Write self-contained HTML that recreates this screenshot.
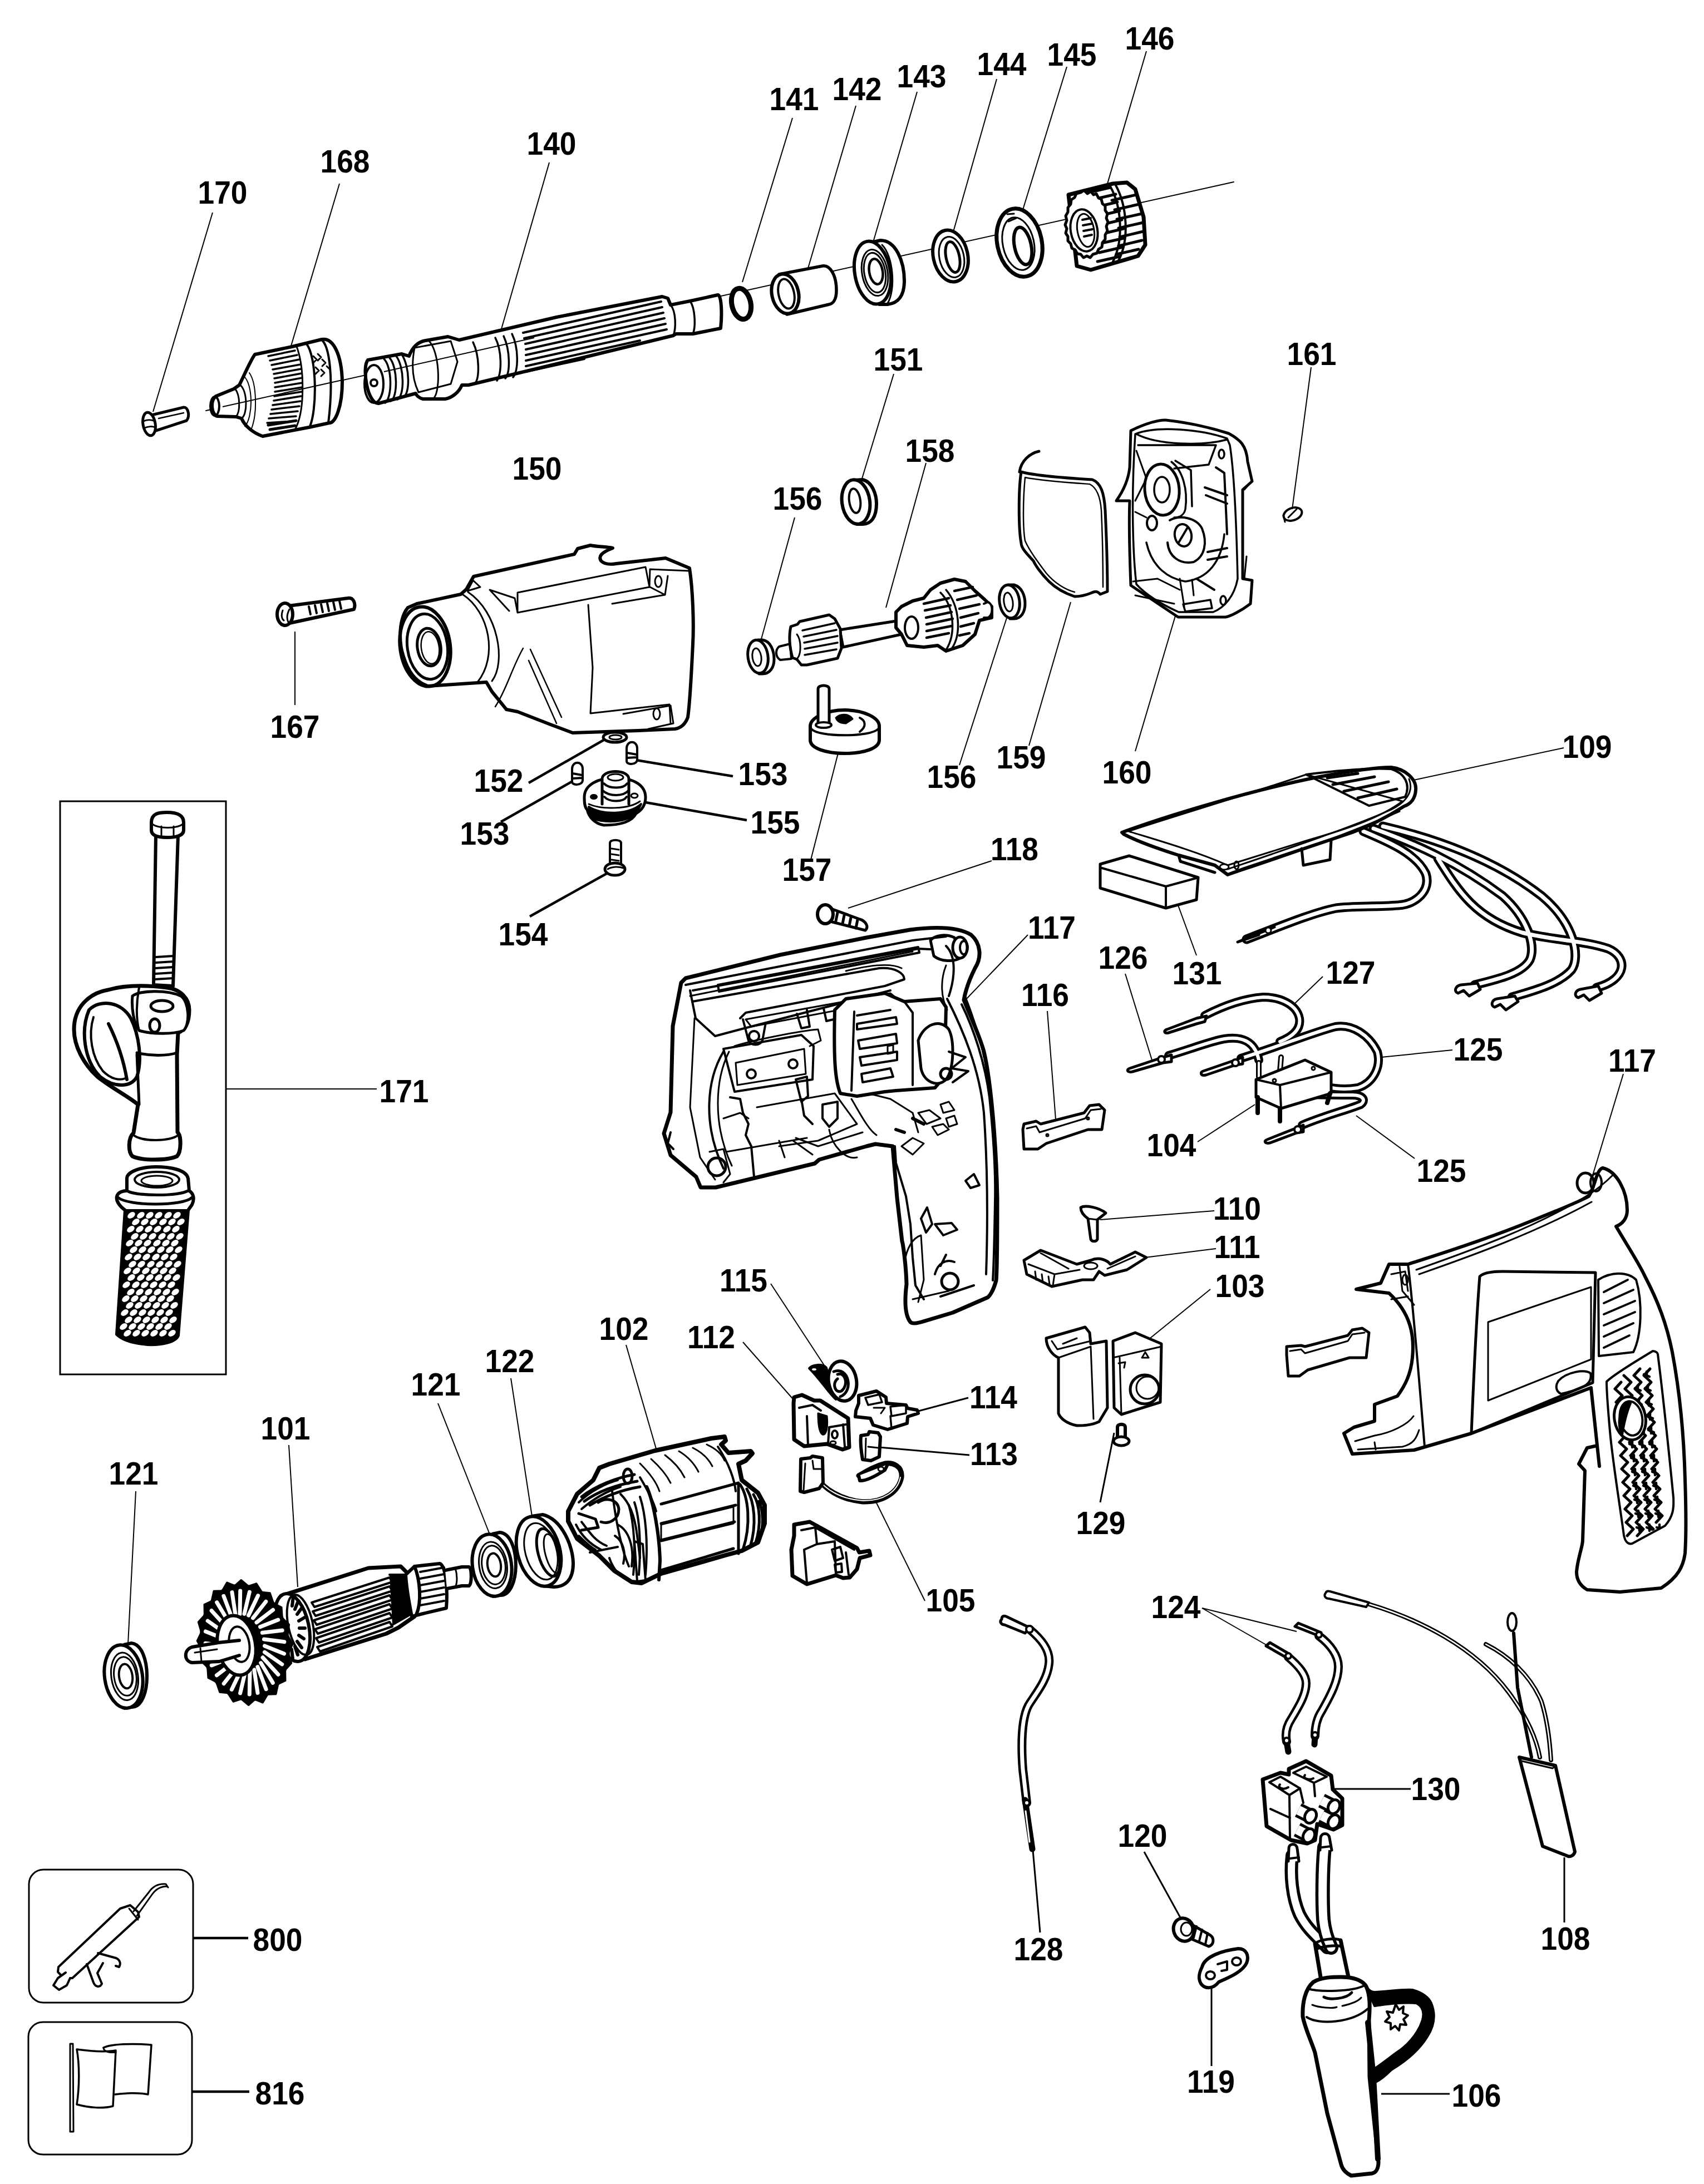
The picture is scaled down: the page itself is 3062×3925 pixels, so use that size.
<!DOCTYPE html><html><head><meta charset="utf-8"><style>html,body{margin:0;padding:0;background:#fff;overflow:hidden}svg{display:block}text{font-family:"Liberation Sans",sans-serif;font-weight:bold;font-size:57px;text-anchor:middle}</style></head><body>
<svg width="3062" height="3925" viewBox="0 0 3062 3925">
<rect width="3062" height="3925" fill="#fff"/>
<g fill="#000">
<text transform="translate(400 366) scale(0.935 1)">170</text>
<text transform="translate(620 310) scale(0.935 1)">168</text>
<text transform="translate(991 278) scale(0.935 1)">140</text>
<text transform="translate(965 862) scale(0.935 1)">150</text>
<text transform="translate(1427 198) scale(0.935 1)">141</text>
<text transform="translate(1540 180) scale(0.935 1)">142</text>
<text transform="translate(1656 157) scale(0.935 1)">143</text>
<text transform="translate(1800 135) scale(0.935 1)">144</text>
<text transform="translate(1926 118) scale(0.935 1)">145</text>
<text transform="translate(2066 89) scale(0.935 1)">146</text>
<text transform="translate(2357 656) scale(0.935 1)">161</text>
<text transform="translate(1614 666) scale(0.935 1)">151</text>
<text transform="translate(1671 830) scale(0.935 1)">158</text>
<text transform="translate(1433 916) scale(0.935 1)">156</text>
<text transform="translate(530 1326) scale(0.935 1)">167</text>
<text transform="translate(896 1423) scale(0.935 1)">152</text>
<text transform="translate(871 1518) scale(0.935 1)">153</text>
<text transform="translate(940 1699) scale(0.935 1)">154</text>
<text transform="translate(1371 1411) scale(0.935 1)">153</text>
<text transform="translate(1393 1498) scale(0.935 1)">155</text>
<text transform="translate(1450 1583) scale(0.935 1)">157</text>
<text transform="translate(1710 1416) scale(0.935 1)">156</text>
<text transform="translate(1835 1381) scale(0.935 1)">159</text>
<text transform="translate(2025 1408) scale(0.935 1)">160</text>
<text transform="translate(1823 1546) scale(0.935 1)">118</text>
<text transform="translate(1890 1687) scale(0.935 1)">117</text>
<text transform="translate(2018 1741) scale(0.935 1)">126</text>
<text transform="translate(1878 1808) scale(0.935 1)">116</text>
<text transform="translate(2151 1769) scale(0.935 1)">131</text>
<text transform="translate(2427 1768) scale(0.935 1)">127</text>
<text transform="translate(2852 1362) scale(0.935 1)">109</text>
<text transform="translate(2656 1906) scale(0.935 1)">125</text>
<text transform="translate(2933 1926) scale(0.935 1)">117</text>
<text transform="translate(2590 2124) scale(0.935 1)">125</text>
<text transform="translate(2223 2192) scale(0.935 1)">110</text>
<text transform="translate(2223 2261) scale(0.935 1)">111</text>
<text transform="translate(2228 2331) scale(0.935 1)">103</text>
<text transform="translate(2105 2078) scale(0.935 1)">104</text>
<text transform="translate(1336 2321) scale(0.935 1)">115</text>
<text transform="translate(1278 2423) scale(0.935 1)">112</text>
<text transform="translate(1785 2531) scale(0.935 1)">114</text>
<text transform="translate(1786 2633) scale(0.935 1)">113</text>
<text transform="translate(1978 2757) scale(0.935 1)">129</text>
<text transform="translate(2113 2908) scale(0.935 1)">124</text>
<text transform="translate(1121 2408) scale(0.935 1)">102</text>
<text transform="translate(916 2466) scale(0.935 1)">122</text>
<text transform="translate(783 2508) scale(0.935 1)">121</text>
<text transform="translate(513 2587) scale(0.935 1)">101</text>
<text transform="translate(240 2668) scale(0.935 1)">121</text>
<text transform="translate(1708 2896) scale(0.935 1)">105</text>
<text transform="translate(1866 3523) scale(0.935 1)">128</text>
<text transform="translate(2053 3319) scale(0.935 1)">120</text>
<text transform="translate(2176 3761) scale(0.935 1)">119</text>
<text transform="translate(2580 3235) scale(0.935 1)">130</text>
<text transform="translate(2813 3504) scale(0.935 1)">108</text>
<text transform="translate(2653 3786) scale(0.935 1)">106</text>
<text transform="translate(726 1981) scale(0.935 1)">171</text>
<text transform="translate(499 3506) scale(0.935 1)">800</text>
<text transform="translate(503 3782) scale(0.935 1)">816</text>
</g>
<g stroke="#000" stroke-width="2" fill="none">
<line x1="382" y1="382" x2="275" y2="740" stroke-width="2"/>
<line x1="610" y1="330" x2="522" y2="625" stroke-width="2"/>
<line x1="987" y1="292" x2="897" y2="605" stroke-width="2"/>
<line x1="1424" y1="212" x2="1334" y2="507" stroke-width="2"/>
<line x1="1538" y1="190" x2="1452" y2="482" stroke-width="2"/>
<line x1="1648" y1="165" x2="1569" y2="435" stroke-width="2"/>
<line x1="1791" y1="142" x2="1712" y2="420" stroke-width="2"/>
<line x1="1917" y1="120" x2="1837" y2="380" stroke-width="2"/>
<line x1="2060" y1="92" x2="1990" y2="330" stroke-width="2"/>
<line x1="2356" y1="660" x2="2322" y2="915" stroke-width="2"/>
<line x1="1606" y1="672" x2="1549" y2="860" stroke-width="2"/>
<line x1="1664" y1="832" x2="1592" y2="1092" stroke-width="2"/>
<line x1="1428" y1="930" x2="1367" y2="1152" stroke-width="2"/>
<line x1="530" y1="1135" x2="530" y2="1267" stroke-width="2"/>
<line x1="950" y1="1407" x2="1090" y2="1327" stroke-width="4.5"/>
<line x1="900" y1="1477" x2="1027" y2="1405" stroke-width="4.5"/>
<line x1="1137" y1="1365" x2="1317" y2="1395" stroke-width="4.5"/>
<line x1="1160" y1="1442" x2="1342" y2="1474" stroke-width="4.5"/>
<line x1="952" y1="1647" x2="1090" y2="1570" stroke-width="4.5"/>
<line x1="1509" y1="1342" x2="1457" y2="1545" stroke-width="2"/>
<line x1="1814" y1="1095" x2="1724" y2="1375" stroke-width="2"/>
<line x1="1924" y1="1082" x2="1849" y2="1340" stroke-width="2"/>
<line x1="2117" y1="1090" x2="2040" y2="1350" stroke-width="2"/>
<line x1="1782" y1="1547" x2="1524" y2="1632" stroke-width="2"/>
<line x1="1847" y1="1680" x2="1732" y2="1800" stroke-width="2"/>
<line x1="2022" y1="1750" x2="2070" y2="1905" stroke-width="2"/>
<line x1="1882" y1="1817" x2="1897" y2="2012" stroke-width="2"/>
<line x1="2117" y1="1627" x2="2150" y2="1717" stroke-width="2"/>
<line x1="2377" y1="1755" x2="2325" y2="1805" stroke-width="2"/>
<line x1="2810" y1="1344" x2="2540" y2="1402" stroke-width="2"/>
<line x1="2610" y1="1887" x2="2482" y2="1900" stroke-width="2"/>
<line x1="2917" y1="1930" x2="2859" y2="2122" stroke-width="2"/>
<line x1="2542" y1="2082" x2="2437" y2="2005" stroke-width="2"/>
<line x1="2182" y1="2176" x2="1977" y2="2192" stroke-width="2"/>
<line x1="2185" y1="2244" x2="2057" y2="2260" stroke-width="2"/>
<line x1="2175" y1="2317" x2="2042" y2="2425" stroke-width="2"/>
<line x1="2152" y1="2052" x2="2255" y2="1985" stroke-width="2"/>
<line x1="1385" y1="2307" x2="1495" y2="2475" stroke-width="2"/>
<line x1="1335" y1="2412" x2="1430" y2="2520" stroke-width="2"/>
<line x1="1740" y1="2512" x2="1635" y2="2540" stroke-width="3"/>
<line x1="1742" y1="2615" x2="1580" y2="2601" stroke-width="3"/>
<line x1="1977" y1="2700" x2="2002" y2="2575" stroke-width="3"/>
<line x1="2160" y1="2890" x2="2330" y2="2932" stroke-width="2"/>
<line x1="2160" y1="2890" x2="2277" y2="2957" stroke-width="2"/>
<line x1="1125" y1="2417" x2="1180" y2="2607" stroke-width="2"/>
<line x1="918" y1="2477" x2="956" y2="2725" stroke-width="2"/>
<line x1="787" y1="2522" x2="881" y2="2760" stroke-width="2"/>
<line x1="519" y1="2597" x2="535" y2="2852" stroke-width="2"/>
<line x1="244" y1="2680" x2="230" y2="2955" stroke-width="2"/>
<line x1="1662" y1="2877" x2="1574" y2="2699" stroke-width="2"/>
<line x1="1856" y1="3325" x2="1869" y2="3473" stroke-width="3"/>
<line x1="2056" y1="3328" x2="2122" y2="3448" stroke-width="3"/>
<line x1="2177" y1="3573" x2="2177" y2="3713" stroke-width="3"/>
<line x1="2397" y1="3215" x2="2535" y2="3215" stroke-width="3"/>
<line x1="2811" y1="3338" x2="2811" y2="3455" stroke-width="3"/>
<line x1="2482" y1="3763" x2="2605" y2="3763" stroke-width="3"/>
<line x1="406" y1="1957" x2="677" y2="1957" stroke-width="2"/>
<line x1="347" y1="3483" x2="446" y2="3483" stroke-width="4.5"/>
<line x1="345" y1="3759" x2="448" y2="3759" stroke-width="4.5"/>
</g>
<g stroke="#000" stroke-width="3" fill="none">
<rect x="108" y="1440" width="298" height="1030"/>
<rect x="52" y="3360" width="295" height="239" rx="26"/>
<rect x="51" y="3634" width="294" height="238" rx="26"/>
</g>
<!-- a_spindle.svg -->
<g fill="none" stroke="#000" stroke-linejoin="round" stroke-linecap="round">
<!-- axis line -->
<line x1="370" y1="738" x2="2217" y2="327" stroke-width="2"/>
<!-- screw 170 -->
<g stroke-width="5">
<path d="M272,746 L330,732 C338,731 342,748 335,756 L280,774" fill="#fff"/>
<ellipse cx="268" cy="762" rx="11" ry="21" transform="rotate(-10 268 762)" fill="#fff"/>
<path d="M258,757 C264,754 272,754 278,757 M260,769 C266,766 274,766 279,768" stroke-width="3"/>
<path d="M285,752 L330,742" stroke-width="2.5"/>
</g>
<!-- chuck 168 -->
<g stroke-width="6">
<path d="M388,712 L420,699 L430,692 C440,672 450,648 458,637 L525,623 L578,610 C600,606 614,640 615,686 C615,730 603,760 592,760 L555,768 L472,784 C455,778 440,766 434,752 L424,749 L390,748 C380,745 377,720 388,712 Z" fill="#fff"/>
<ellipse cx="386" cy="730" rx="8" ry="17" stroke-width="4"/>
<path d="M422,698 C432,710 432,740 424,749 M432,692 C445,705 445,745 434,752" stroke-width="3"/>
<path d="M438,676 C455,690 455,750 440,766 M448,670 C462,690 462,745 452,770" stroke-width="2"/>
<path d="M577,610 C592,620 600,680 590,760 M550,617 C570,640 570,740 556,768" stroke-width="4"/>
<path d="M532,620 C548,660 548,740 530,772" stroke-width="3"/>
</g>
<g stroke-width="3.5">
<path d="M482,640 L530,630 M485,648 L534,638 M488,656 L538,646 M490,664 L540,655 M492,672 L541,663 M493,680 L542,671 M494,688 L543,679 M494,696 L543,688 M494,704 L543,696 M493,712 L542,704 M492,720 L541,712 M490,728 L540,721 M488,736 L538,730 M486,744 L535,739 M483,752 L532,748 M480,760 L528,757"/>
</g>
<path d="M563,640 l6,6 l-6,6 M571,636 l6,6 l-6,6 M579,646 l6,6 l-6,6 M567,660 l6,6 l-6,6 M577,664 l6,6 l-6,6 M587,658 l5,5" stroke-width="3"/>
<path d="M482,764 L532,756 M485,772 L530,765" stroke-width="5"/>
<!-- spindle 140 -->
<g stroke-width="6">
<path d="M661,647 L722,636 L735,640 C742,622 752,614 765,612 L805,605 L825,611 L1000,570 L1190,533 L1200,536 L1205,548 L1240,541 L1290,530 C1296,530 1298,560 1295,590 L1245,600 L1215,600 L1210,603 L1050,642 L842,692 L830,692 C825,705 812,715 800,717 L760,717 C752,715 748,710 747,707 L680,725 C660,726 650,660 661,647 Z" fill="#fff"/>
<ellipse cx="672" cy="690" rx="17" ry="34" stroke-width="4"/>
<circle cx="672" cy="688" r="6" stroke-width="4"/>
<path d="M690,645 C705,660 705,715 692,724 M700,643 C715,660 715,715 702,721 M712,640 C727,660 727,712 714,718 M722,637 C737,660 737,710 724,714" stroke-width="3.5"/>
<path d="M745,625 L810,613 L822,650 L810,690 L752,705 C740,680 740,650 745,625" stroke-width="3"/>
<path d="M770,612 C790,630 792,700 780,715" stroke-width="3"/>
<path d="M850,615 C862,640 862,680 853,690 M890,607 C902,630 902,670 893,684 M905,604 C917,630 917,670 908,680 M920,600 C932,625 932,665 922,678" stroke-width="3.5"/>
<path d="M940,598 L1188,542 M942,608 L1190,552 M944,618 L1192,562 M945,628 L1194,572 M945,638 L1196,582 M945,648 L1198,592 M945,658 L1150,612 M945,668 L1050,645" stroke-width="4"/>
<path d="M1205,548 C1215,560 1215,590 1210,603 M1240,541 C1250,555 1250,590 1245,600" stroke-width="3.5"/>
</g>
</g>

<!-- b_rings.svg -->
<g fill="none" stroke="#000" stroke-linejoin="round" stroke-linecap="round">
<!-- 141 o-ring -->
<ellipse cx="1332" cy="546" rx="17" ry="28" transform="rotate(-12 1332 546)" stroke-width="9" fill="#fff"/>
<!-- 142 sleeve -->
<g stroke-width="5.5">
<path d="M1400,493 L1478,478 C1492,476 1503,495 1503,522 C1503,540 1496,546 1490,547 L1414,565" fill="#fff"/>
<ellipse cx="1411" cy="528" rx="24" ry="36" transform="rotate(-12 1411 528)" fill="#fff" stroke-width="6"/>
<ellipse cx="1413" cy="528" rx="14" ry="27" transform="rotate(-12 1413 528)" stroke-width="4"/>
</g>
<!-- 143 bearing -->
<g stroke-width="6">
<path d="M1560,437 L1582,432 C1610,432 1625,470 1625,505 C1625,530 1615,545 1595,547 L1580,547" fill="#fff"/>
<ellipse cx="1568" cy="490" rx="32" ry="57" transform="rotate(-10 1568 490)" fill="#fff"/>
<ellipse cx="1572" cy="490" rx="23" ry="42" transform="rotate(-10 1572 490)" stroke-width="3"/>
<ellipse cx="1572" cy="490" rx="19" ry="36" transform="rotate(-10 1572 490)" stroke-width="3"/>
<ellipse cx="1574" cy="488" rx="12" ry="23" transform="rotate(-10 1574 488)" stroke-width="4.5"/>
<path d="M1585,440 C1605,460 1610,520 1595,545" stroke-width="3"/>
</g>
<!-- 144 ring -->
<g>
<ellipse cx="1708" cy="460" rx="31" ry="47" transform="rotate(-12 1708 460)" stroke-width="6" fill="#fff"/>
<ellipse cx="1710" cy="462" rx="22" ry="37" transform="rotate(-12 1710 462)" stroke-width="3"/>
<ellipse cx="1712" cy="462" rx="12" ry="28" transform="rotate(-12 1712 462)" stroke-width="5"/>
</g>
<!-- 145 ring -->
<g>
<ellipse cx="1832" cy="436" rx="40" ry="62" transform="rotate(-12 1832 436)" stroke-width="7" fill="#fff"/>
<ellipse cx="1830" cy="438" rx="28" ry="48" transform="rotate(-12 1830 438)" stroke-width="3"/>
<ellipse cx="1838" cy="442" rx="15" ry="34" transform="rotate(-12 1838 442)" stroke-width="6"/>
<path d="M1810,385 L1822,384 M1812,398 L1826,392" stroke-width="3"/>
</g>
<!-- 146 gear -->
<g>
<path d="M1920,350 L2000,330 L2025,328 L2040,340 L2055,390 L2058,440 L2045,460 L1960,485 L1935,478 Z" fill="#fff" stroke="#000" stroke-width="7"/>
<g stroke-width="5">
<path d="M1952,347 L1995,337 M1958,360 L2005,349 M1998,360 L2042,350 M1962,374 L2008,363 M2003,377 L2047,367 M1966,390 L2012,379 M2007,394 L2052,384 M1970,406 L2016,395 M2010,410 L2054,400 M1973,422 L2019,411 M2012,426 L2054,416 M1975,438 L2020,428 M2010,442 L2052,432 M1975,454 L2018,444 M2006,457 L2046,448 M1972,470 L2012,461"/>
</g>
<path d="M1995,335 C2015,370 2020,430 2000,470 M2005,333 C2025,370 2030,430 2010,468" stroke-width="4"/>
<path d="M1942,346 l6,-4 l6,6 l6,-4 l5,6 l5,-2 l4,8 l5,2 l2,8 l5,4 l0,8 l4,6 l-2,8 l3,7 l-3,8 l2,8 l-4,7 l0,8 l-5,6 l-1,8 l-6,4 l-3,7 l-7,2 l-5,6 l-6,-3 l-6,3 l-5,-6 l-6,-1 l-4,-7 l-6,-3 l-2,-8 l-5,-5 l0,-8 l-4,-6 l2,-8 l-3,-7 l3,-8 l-2,-8 l4,-7 l0,-8 l5,-6 l1,-8 l6,-4 l3,-7 l7,-2 Z" fill="#fff" stroke-width="5"/>
<ellipse cx="1948" cy="414" rx="24" ry="38" transform="rotate(-10 1948 414)" stroke-width="4"/>
<ellipse cx="1951" cy="414" rx="15" ry="30" transform="rotate(-10 1951 414)" stroke-width="3"/>
<path d="M1945,395 L1960,392 M1946,405 L1962,402 M1947,415 L1963,412 M1948,425 L1962,422" stroke-width="4"/>
</g>
<!-- 151 washer -->
<g>
<path d="M1535,863 L1550,862 C1568,866 1575,890 1575,905 C1575,930 1565,942 1550,942 L1540,942" stroke-width="6" fill="#fff"/>
<ellipse cx="1538" cy="902" rx="25" ry="40" transform="rotate(-8 1538 902)" stroke-width="6" fill="#fff"/>
<ellipse cx="1536" cy="900" rx="10" ry="22" transform="rotate(-8 1536 900)" stroke-width="4"/>
</g>
</g>

<!-- c_housing150.svg -->
<g fill="none" stroke="#000" stroke-linejoin="round" stroke-linecap="round">
<path d="M749,1085 L828,1068 L838,1059 L851,1036 L1032,996 L1038,986 L1061,980 C1075,983 1090,982 1101,985 C1080,993 1075,1000 1080,1008 C1085,1013 1095,1015 1107,1013 L1196,1003 L1239,1021 C1245,1060 1247,1120 1245,1157 C1243,1200 1240,1260 1236,1289 C1232,1300 1225,1308 1213,1310 L1147,1313 L1029,1317 L989,1302 L930,1279 L910,1275 L884,1243 L874,1226 L769,1233 C745,1225 733,1205 725,1180 C715,1150 718,1110 733,1092 Z" stroke-width="6" fill="#fff"/>
<ellipse cx="764" cy="1162" rx="45" ry="72" transform="rotate(-8 764 1162)" stroke-width="6"/>
<ellipse cx="768" cy="1162" rx="36" ry="59" transform="rotate(-8 768 1162)" stroke-width="5"/>
<ellipse cx="771" cy="1163" rx="21" ry="34" transform="rotate(-8 771 1163)" stroke-width="5"/>
<ellipse cx="773" cy="1164" rx="16" ry="29" transform="rotate(-8 773 1164)" stroke-width="2.5"/>
<path d="M831,1068 C880,1100 895,1180 858,1226 M841,1064 C895,1100 910,1190 884,1224" stroke-width="3"/>
<path d="M930,1065 L1160,1019 L1167,1055 L930,1101 Z M930,1101 L925,1075 L880,1060 L915,1098" stroke-width="3"/>
<path d="M1167,1055 L1168,1023 L1239,1026 M1168,1055 L1195,1069 L1100,1085 M1195,1069 L1200,1035" stroke-width="3"/>
<path d="M1057,1087 L1065,1200 L1061,1282 L1203,1266 L1205,1300" stroke-width="3"/>
<path d="M953,1167 L1009,1289 M950,1187 L1000,1300 M940,1165 C920,1200 910,1240 890,1270" stroke-width="2.5"/>
<ellipse cx="1183" cy="1045" rx="6" ry="10" stroke-width="3"/>
<ellipse cx="1180" cy="1283" rx="6" ry="10" stroke-width="3"/>
<path d="M1120,1283 L1205,1268 L1210,1300 L1165,1310" stroke-width="3"/>
<path d="M840,1062 L850,1043 L863,1055 Z" stroke-width="3"/>
</g>
<!-- 167 screw -->
<g fill="none" stroke="#000" stroke-linejoin="round" stroke-linecap="round">
<path d="M510,1090 L625,1075 C635,1073 640,1085 636,1095 L520,1120" stroke-width="6" fill="#fff"/>
<ellipse cx="512" cy="1104" rx="14" ry="20" stroke-width="6" fill="#fff"/>
<path d="M520,1095 C515,1105 515,1112 518,1118 M508,1097 C505,1105 506,1112 510,1115" stroke-width="3"/>
<path d="M555,1090 L558,1104 M566,1088 L569,1102 M577,1086 L580,1100 M588,1084 L591,1098 M599,1082 L602,1096 M610,1080 L613,1094" stroke-width="4"/>
</g>

<!-- d_mid.svg -->
<g fill="none" stroke="#000" stroke-linejoin="round" stroke-linecap="round">
<!-- 152 washer -->
<ellipse cx="1105" cy="1325" rx="21" ry="9" stroke-width="5" fill="#fff"/>
<ellipse cx="1106" cy="1325" rx="11" ry="4" stroke-width="3"/>
<!-- 153 pins -->
<path d="M1126,1368 L1126,1345 C1126,1330 1145,1330 1145,1345 L1145,1365 C1145,1375 1126,1375 1126,1368 Z M1127,1353 L1144,1356 M1127,1362 L1144,1361" stroke-width="4" fill="#fff"/>
<path d="M1028,1405 L1028,1382 C1028,1367 1047,1367 1047,1382 L1047,1402 C1047,1412 1028,1412 1028,1405 Z M1029,1390 L1046,1393 M1029,1399 L1046,1398" stroke-width="4" fill="#fff"/>
<!-- 155 -->
<path d="M1050,1433 C1050,1410 1075,1398 1105,1398 C1140,1398 1160,1412 1160,1433 C1160,1445 1155,1455 1143,1462 C1135,1478 1110,1483 1085,1483 C1068,1480 1058,1468 1055,1455 C1050,1450 1050,1440 1050,1433 Z" stroke-width="5" fill="#fff"/>
<path d="M1058,1450 C1080,1465 1130,1465 1152,1445 L1143,1462 C1125,1478 1090,1480 1062,1470 Z" fill="#000" stroke-width="4"/>
<path d="M1058,1445 C1080,1455 1130,1455 1150,1440" stroke-width="3"/>
<path d="M1082,1445 L1082,1400 C1082,1382 1130,1382 1130,1400 L1130,1445" stroke-width="5" fill="#fff"/>
<path d="M1082,1420 C1095,1432 1120,1432 1130,1420 M1085,1408 C1095,1418 1120,1418 1127,1408 M1086,1432 C1095,1442 1120,1442 1126,1432" stroke-width="4"/>
<ellipse cx="1106" cy="1397" rx="14" ry="6" stroke-width="3"/>
<ellipse cx="1067" cy="1432" rx="6" ry="4" fill="#000" stroke-width="2"/>
<ellipse cx="1140" cy="1430" rx="6" ry="4" stroke-width="3"/>
<!-- 154 screw -->
<path d="M1096,1558 L1096,1515 C1096,1508 1116,1508 1116,1515 L1116,1558" stroke-width="4" fill="#fff"/>
<path d="M1099,1525 L1112,1527 M1099,1535 L1112,1537 M1099,1545 L1112,1547" stroke-width="3"/>
<ellipse cx="1105" cy="1562" rx="18" ry="11" stroke-width="5" fill="#fff"/>
<path d="M1092,1562 C1100,1557 1112,1557 1120,1560" stroke-width="3"/>
<!-- 156 washers -->
<path d="M1362,1150 L1370,1150 C1385,1152 1391,1170 1391,1185 C1391,1200 1383,1211 1370,1211 L1364,1211" stroke-width="5" fill="#fff"/>
<ellipse cx="1362" cy="1180" rx="18" ry="30" transform="rotate(-8 1362 1180)" stroke-width="5" fill="#fff"/>
<ellipse cx="1360" cy="1181" rx="8" ry="16" transform="rotate(-8 1360 1181)" stroke-width="3"/>
<path d="M1812,1051 L1822,1051 C1836,1055 1842,1070 1842,1085 C1842,1100 1835,1112 1822,1112 L1815,1112" stroke-width="5" fill="#fff"/>
<ellipse cx="1814" cy="1081" rx="18" ry="30" transform="rotate(-8 1814 1081)" stroke-width="5" fill="#fff"/>
<ellipse cx="1812" cy="1082" rx="8" ry="17" transform="rotate(-8 1812 1082)" stroke-width="3"/>
<!-- 158 shaft -->
<path d="M1509,1132 L1636,1112 L1629,1138 L1515,1163 Z" stroke-width="5" fill="#fff"/>
<path d="M1400,1162 L1420,1157 L1422,1184 L1402,1186 C1393,1180 1393,1168 1400,1162 Z" stroke-width="4" fill="#fff"/>
<path d="M1421,1126 L1433,1122 L1437,1117 L1490,1105 L1500,1112 L1510,1130 L1512,1165 L1505,1183 L1450,1195 L1440,1195 L1432,1185 L1424,1182 C1418,1160 1418,1140 1421,1126 Z" stroke-width="5" fill="#fff"/>
<path d="M1442,1133 L1500,1120 M1444,1144 L1503,1132 M1445,1155 L1505,1143 M1446,1166 L1505,1155 M1446,1177 L1503,1167" stroke-width="3.5"/>
<path d="M1432,1140 C1440,1150 1440,1175 1433,1183" stroke-width="3"/>
<path d="M1610,1100 L1620,1090 L1640,1080 L1660,1075 L1672,1060 L1690,1048 L1715,1041 L1735,1045 L1752,1062 L1770,1078 L1782,1090 L1782,1110 L1760,1115 L1752,1140 L1730,1160 L1700,1170 L1685,1160 L1660,1163 L1630,1160 L1620,1140 L1610,1128 Z" stroke-width="6" fill="#fff"/>
<path d="M1660,1085 L1705,1075 M1662,1097 L1708,1088 M1664,1110 L1710,1100 M1665,1122 L1712,1112 M1665,1134 L1710,1125 M1665,1146 L1705,1138 M1715,1062 L1748,1055 M1720,1078 L1755,1070 M1724,1094 L1760,1086 M1726,1110 L1758,1102 M1726,1126 L1750,1120 M1724,1142 L1742,1138" stroke-width="4.5"/>
<path d="M1690,1065 C1715,1090 1718,1140 1700,1168 M1700,1060 C1725,1090 1728,1140 1710,1166" stroke-width="3.5"/>
<ellipse cx="1638" cy="1128" rx="12" ry="20" stroke-width="4"/>
<path d="M1768,1085 L1775,1082 C1785,1085 1785,1105 1775,1110 L1768,1110" stroke-width="4" fill="#fff"/>
<!-- 157 -->
<path d="M1456,1305 C1456,1290 1485,1276 1518,1276 C1552,1276 1580,1290 1580,1305 L1580,1330 C1580,1345 1552,1354 1518,1354 C1485,1354 1456,1345 1456,1330 Z" stroke-width="6" fill="#fff"/>
<path d="M1458,1310 C1470,1325 1565,1325 1578,1310" stroke-width="4"/>
<path d="M1502,1290 C1510,1282 1525,1282 1532,1292 L1520,1300 C1512,1300 1505,1298 1502,1290 Z" fill="#000" stroke-width="3"/>
<path d="M1545,1290 C1555,1295 1558,1305 1545,1315" stroke-width="4"/>
<path d="M1470,1300 L1470,1238 C1470,1230 1490,1230 1490,1238 L1490,1300" stroke-width="5" fill="#fff"/>
<ellipse cx="1480" cy="1303" rx="14" ry="5" stroke-width="4" fill="#fff"/>
<!-- 159 plate -->
<path d="M1867,811 C1850,815 1835,828 1832,848" stroke-width="5"/>
<path d="M1835,848 C1860,855 1930,860 1963,862 C1978,868 1984,885 1986,917 C1988,960 1990,1030 1990,1063 L1977,1068 C1972,1062 1968,1062 1960,1066 C1950,1070 1940,1072 1931,1072 C1910,1065 1895,1055 1885,1045 C1870,1030 1860,1015 1857,1008 C1845,995 1835,985 1835,976 C1830,950 1830,880 1835,848 Z" stroke-width="5"/>
<path d="M1842,858 C1870,864 1930,868 1958,870 C1970,876 1977,890 1979,917 C1981,960 1982,1020 1982,1055 M1842,858 C1838,900 1838,950 1842,972 C1850,990 1865,1010 1880,1030 C1895,1048 1915,1060 1931,1064" stroke-width="2.5"/>
<!-- 160 cover -->
<path d="M2032,774 C2060,760 2085,754 2095,755 C2140,760 2180,770 2208,779 C2228,790 2240,800 2242,830 L2250,865 L2233,880 L2233,1040 L2250,1043 L2247,1085 C2230,1098 2210,1108 2202,1109 L2117,1109 L2032,1052 C2030,1000 2028,950 2030,900 L2006,900 C2020,880 2028,860 2030,840 Z" stroke-width="5" fill="#fff"/>
<path d="M2040,780 C2080,764 2160,772 2205,788 L2210,800 C2218,850 2222,950 2224,1040 C2218,1072 2200,1092 2180,1100 L2118,1100 C2085,1085 2060,1070 2042,1050 C2036,1000 2032,900 2040,780 Z" stroke-width="3.5"/>
<path d="M2042,780 C2080,800 2160,802 2205,790 M2045,800 L2185,800 L2172,835 L2110,842" stroke-width="3.5"/>
<path d="M2042,810 L2060,860 L2040,900 M2040,920 L2060,930" stroke-width="3"/>
<ellipse cx="2088" cy="880" rx="31" ry="46" transform="rotate(-5 2088 880)" stroke-width="5" fill="#fff"/>
<ellipse cx="2088" cy="880" rx="14" ry="23" stroke-width="3.5"/>
<path d="M2105,830 C2125,845 2135,880 2130,915 C2128,925 2120,930 2110,930 M2112,828 L2140,845 L2142,910" stroke-width="3.5"/>
<path d="M2102,935 C2120,925 2150,930 2160,950 C2170,975 2165,1000 2145,1010 C2120,1015 2100,1000 2098,975" stroke-width="4"/>
<ellipse cx="2126" cy="962" rx="15" ry="20" transform="rotate(-10 2126 962)" stroke-width="4"/>
<path d="M2118,975 L2134,948" stroke-width="4"/>
<ellipse cx="2070" cy="940" rx="9" ry="13" stroke-width="4"/>
<path d="M2060,975 C2070,1020 2100,1040 2130,1045 C2170,1040 2195,1010 2200,960" stroke-width="3.5"/>
<path d="M2165,876 L2205,890 M2167,890 L2205,905 M2170,992 L2205,985 M2170,1006 L2205,1000 M2150,1040 L2182,1060 M2185,840 L2200,850 L2205,960" stroke-width="4"/>
<path d="M2120,1040 L2128,1090 M2142,1042 L2145,1070" stroke-width="3"/>
<ellipse cx="2195" cy="816" rx="5" ry="8" stroke-width="3.5"/>
<ellipse cx="2198" cy="1079" rx="5" ry="8" stroke-width="3.5"/>
<path d="M2126,1086 L2175,1078 L2178,1093 L2130,1099 Z" stroke-width="3.5"/>
<path d="M2036,1045 L2080,1040 L2120,1060 M2040,1070 L2110,1085" stroke-width="3"/>
<path d="M2236,880 L2245,870 M2236,1040 L2240,1000" stroke-width="3"/>
<!-- 161 -->
<ellipse cx="2323" cy="924" rx="17" ry="11" transform="rotate(-20 2323 924)" stroke-width="4"/>
<path d="M2315,930 L2330,915 M2309,938 L2306,926" stroke-width="3"/>
</g>

<!-- e_plate109.svg -->
<g fill="none" stroke="#000" stroke-linejoin="round" stroke-linecap="round">
<!-- wires (tube style) -->
<g stroke-width="17">
<path d="M2450,1494 C2500,1515 2545,1535 2562,1570 C2572,1600 2545,1625 2512,1627 C2470,1630 2430,1628 2401,1632 C2360,1640 2300,1665 2240,1688"/>
<path d="M2468,1489 C2540,1515 2620,1550 2700,1610 C2745,1650 2760,1700 2749,1725 C2735,1750 2690,1760 2650,1770"/>
<path d="M2485,1485 C2570,1505 2680,1540 2770,1610 C2830,1660 2840,1720 2824,1743 C2800,1770 2750,1782 2717,1792"/>
<path d="M2584,1543 C2620,1600 2650,1650 2735,1676 C2790,1690 2847,1690 2890,1705 C2925,1720 2925,1760 2869,1775"/>
</g>
<g stroke-width="7" stroke="#fff">
<path d="M2450,1494 C2500,1515 2545,1535 2562,1570 C2572,1600 2545,1625 2512,1627 C2470,1630 2430,1628 2401,1632 C2360,1640 2300,1665 2240,1688"/>
<path d="M2468,1489 C2540,1515 2620,1550 2700,1610 C2745,1650 2760,1700 2749,1725 C2735,1750 2690,1760 2650,1770"/>
<path d="M2485,1485 C2570,1505 2680,1540 2770,1610 C2830,1660 2840,1720 2824,1743 C2800,1770 2750,1782 2717,1792"/>
<path d="M2584,1543 C2620,1600 2650,1650 2735,1676 C2790,1690 2847,1690 2890,1705 C2925,1720 2925,1760 2869,1775"/>
</g>
<path d="M2262,1680 L2224,1693 L2290,1666" stroke-width="5"/>
<circle cx="2279" cy="1672" r="5" stroke-width="3" fill="#fff"/>
<g stroke-width="5" fill="#fff">
<path d="M2655,1767 L2625,1770 C2615,1772 2612,1782 2620,1785 L2630,1780 L2640,1790 L2660,1778 Z"/>
<path d="M2722,1790 L2690,1795 C2680,1797 2678,1808 2686,1810 L2696,1805 L2706,1815 L2728,1800 Z"/>
<path d="M2872,1772 L2840,1778 C2830,1780 2828,1790 2836,1793 L2846,1788 L2856,1798 L2878,1785 Z"/>
</g>
<!-- plate -->
<path d="M2016,1496 C2100,1465 2250,1420 2371,1396 C2430,1385 2470,1379 2500,1379 C2525,1382 2546,1400 2544,1420 C2543,1435 2535,1445 2523,1449 C2490,1470 2460,1485 2430,1496 L2236,1561 L2206,1572 L2183,1555 L2118,1537 C2080,1525 2040,1510 2019,1499 Z" stroke-width="6" fill="#fff"/>
<path d="M2028,1494 C2100,1470 2250,1425 2347,1392 L2520,1440 C2480,1470 2420,1490 2350,1510 L2206,1555 C2150,1530 2080,1510 2028,1494" stroke-width="3"/>
<path d="M2206,1562 C2300,1530 2420,1490 2500,1455 C2530,1440 2540,1420 2532,1400 M2215,1570 C2310,1540 2430,1495 2515,1458" stroke-width="3"/>
<path d="M2347,1392 C2400,1385 2460,1380 2500,1382 C2525,1390 2535,1410 2525,1432 L2460,1448 Z" stroke-width="4"/>
<path d="M2385,1398 L2440,1390 M2395,1410 L2470,1396 M2415,1422 L2495,1405 M2440,1434 L2510,1418" stroke-width="5"/>
<path d="M2118,1537 L2121,1548 L2183,1568 M2339,1525 L2342,1555 L2390,1545 L2392,1510" stroke-width="5"/>
<ellipse cx="2200" cy="1558" rx="8" ry="5" stroke-width="3"/>
<ellipse cx="2222" cy="1555" rx="4" ry="7" stroke-width="3"/>
<!-- 131 brush block -->
<path d="M1977,1553 L2029,1538 L2153,1577 L2150,1617 L2095,1632 L1977,1596 Z" stroke-width="5" fill="#fff"/>
<path d="M1980,1560 L2095,1593 L2150,1578 M2095,1593 L2095,1632" stroke-width="4"/>
</g>

<!-- f_housing117L.svg -->
<g fill="none" stroke="#000" stroke-linejoin="round" stroke-linecap="round">
<path d="M1224,1766 L1232,1758 L1402,1716 L1557,1685 L1635,1671 C1680,1665 1720,1665 1745,1680 C1762,1695 1765,1720 1752,1740 C1742,1760 1735,1780 1732,1797 C1745,1830 1760,1860 1768,1890 C1780,1940 1790,2050 1792,2153 C1792,2230 1792,2280 1790,2301 C1785,2320 1778,2330 1774,2332 L1712,2359 L1662,2374 C1650,2378 1640,2380 1636,2376 C1627,2365 1625,2340 1629,2308 C1628,2270 1622,2231 1621,2231 L1612,2153 L1604,2060 L1573,2056 L1557,2060 L1472,2084 L1464,2091 L1286,2134 L1259,2134 L1251,2115 L1205,2076 L1193,2037 L1205,1999 L1209,1844 Z" stroke-width="7" fill="#fff"/>
<!-- top rails -->
<path d="M1672,1690 C1680,1680 1700,1678 1715,1685 L1728,1720 C1715,1730 1690,1728 1678,1718 Z" stroke-width="5" fill="#fff"/>
<ellipse cx="1725" cy="1703" rx="13" ry="19" stroke-width="5" fill="#fff"/>
<ellipse cx="1732" cy="1703" rx="7" ry="12" stroke-width="4"/>
<path d="M1232,1770 L1640,1690 L1700,1683 M1245,1780 L1650,1705 L1672,1706" stroke-width="4"/>
<path d="M1290,1770 L1650,1702 L1652,1712 L1292,1782 Z" stroke-width="4"/>
<path d="M1244,1800 L1580,1740 C1610,1738 1625,1750 1625,1760 L1590,1772 L1340,1820 L1330,1830" stroke-width="4"/>
<path d="M1240,1780 L1250,1830 L1285,1862 L1330,1850 L1600,1780" stroke-width="4"/>
<path d="M1335,1832 L1345,1870 C1350,1880 1365,1880 1370,1870 L1376,1838" stroke-width="4"/>
<circle cx="1355" cy="1862" r="9" stroke-width="4"/>
<!-- front inner -->
<path d="M1248,1830 L1240,1990 L1258,2080 L1285,2120" stroke-width="3"/>
<path d="M1300,1890 C1270,1940 1262,2020 1300,2100" stroke-width="4"/>
<path d="M1310,1890 C1285,1940 1280,2020 1315,2095" stroke-width="3"/>
<path d="M1300,1885 L1440,1860 L1462,1880 L1460,1940 L1320,1962 Z" stroke-width="4"/>
<path d="M1322,1910 L1445,1885 L1448,1930 L1325,1950 Z" stroke-width="3"/>
<circle cx="1350" cy="1930" r="8" stroke-width="4"/>
<circle cx="1425" cy="1912" r="8" stroke-width="4"/>
<path d="M1312,1972 L1330,1975 L1335,2000 L1345,2020 L1340,2040 L1350,2060 L1355,2115" stroke-width="4"/>
<path d="M1360,1990 L1500,1965 L1540,2020 L1470,2050 L1400,2060" stroke-width="3"/>
<path d="M1430,1940 L1450,1935 L1452,1970 L1440,1980 L1435,1960 Z M1440,1975 L1445,2005 L1460,2020" stroke-width="4"/>
<path d="M1478,1985 L1505,1980 L1505,2010 L1490,2025 L1478,2010 Z" stroke-width="4"/>
<path d="M1430,2045 L1470,2060 L1550,2035 M1425,2050 L1460,2075" stroke-width="3"/>
<circle cx="1288" cy="2097" r="16" stroke-width="5"/>
<path d="M1275,2070 L1300,2065 L1312,2110 L1300,2125" stroke-width="3"/>
<path d="M1205,2035 L1200,2055 L1210,2065" stroke-width="4"/>
<!-- extra detail -->
<path d="M1728,1805 C1750,1850 1770,1910 1778,1972 C1786,2050 1789,2120 1788,2160 C1787,2220 1786,2270 1784,2301" stroke-width="4"/>
<path d="M1700,1735 C1690,1760 1690,1790 1702,1815" stroke-width="3"/>
<path d="M1240,1790 L1640,1710 M1520,1745 C1560,1735 1600,1730 1620,1740" stroke-width="3"/>
<path d="M1340,1832 L1600,1785 L1612,1795 L1350,1845 Z" stroke-width="3"/>
<path d="M1432,1822 L1440,1848 L1455,1845 L1450,1815 M1480,1812 L1485,1835 L1498,1832" stroke-width="4"/>
<path d="M1320,1880 C1350,1870 1440,1852 1470,1850 L1475,1870 L1455,1880" stroke-width="3"/>
<path d="M1300,2010 L1330,2000 L1345,2010 M1305,2070 L1450,2045 M1400,2050 L1410,2080 M1490,2030 C1495,2060 1520,2085 1540,2080" stroke-width="3"/>
<path d="M1530,1975 C1545,2000 1560,2030 1575,2040 M1560,1965 L1600,1975 L1640,2000 L1650,2035" stroke-width="3"/>
<path d="M1640,2010 L1660,2020 M1610,2030 L1625,2035" stroke-width="6"/>
<path d="M1625,2270 C1630,2240 1640,2225 1655,2220 L1660,2300 L1650,2340 M1640,2335 L1705,2320" stroke-width="3"/>
<path d="M1553,1905 L1575,1900 L1578,1915 L1555,1920 Z M1590,1895 L1600,1893 L1602,1905 L1592,1907 Z" stroke-width="3"/>
<!-- switch block -->
<path d="M1500,1815 L1520,1795 L1590,1785 L1625,1800 L1690,1795 L1700,1810 L1697,1935 L1680,1955 L1610,1960 L1590,1962 L1540,1970 L1510,1965 C1500,1940 1498,1900 1500,1815 Z" stroke-width="6" fill="#fff"/>
<path d="M1535,1818 L1530,1960 M1625,1800 L1640,1820 L1640,1950" stroke-width="4"/>
<path d="M1540,1825 L1600,1815 M1540,1840 L1610,1828 L1612,1840 L1540,1850 Z M1542,1870 L1610,1858 L1612,1875 L1545,1885 Z M1545,1900 L1612,1890 L1612,1905 L1548,1915 Z M1548,1930 L1600,1920 L1605,1935 L1550,1945 Z" stroke-width="4"/>
<path d="M1595,1880 L1605,1878 L1605,1892 L1595,1894 Z" stroke-width="3"/>
<path d="M1650,1870 C1660,1840 1690,1830 1705,1850 C1715,1870 1715,1920 1700,1940 C1685,1955 1660,1945 1655,1920 Z" stroke-width="5" fill="#fff"/>
<path d="M1705,1890 L1735,1900 L1710,1920 L1740,1925 L1712,1945" stroke-width="4"/>
<circle cx="1700" cy="1930" r="10" stroke-width="5"/>
<!-- handle inner -->
<path d="M1700,1700 C1720,1720 1715,1760 1705,1790 M1702,1795 C1730,1850 1760,1920 1768,2000 C1775,2100 1775,2200 1772,2290" stroke-width="4"/>
<path d="M1735,1792 C1750,1830 1762,1870 1768,1900" stroke-width="3"/>
<path d="M1608,2060 L1610,2090 L1628,2150 L1636,2200 L1640,2260 L1645,2310 L1660,2335" stroke-width="4"/>
<path d="M1620,2060 L1640,2045 L1660,2055 L1640,2075 Z" stroke-width="3"/>
<path d="M1655,2190 L1666,2170 L1675,2200 L1664,2215 Z M1744,2135 L1735,2122 L1750,2110 L1760,2130 Z M1680,2200 L1710,2198 L1720,2210 L1695,2220 Z" stroke-width="4"/>
<path d="M1650,2000 L1670,1995 L1690,2010 L1665,2020 Z M1690,1985 L1705,1980 L1715,1995 L1695,2000 Z M1675,2025 L1695,2020 L1705,2030 L1685,2040 Z M1700,2010 L1715,2005 L1720,2020 L1705,2025 Z" stroke-width="3"/>
<circle cx="1338" cy="2300" r="0" stroke-width="0"/>
<circle cx="1707" cy="2303" r="15" stroke-width="5"/>
<path d="M1680,2290 C1685,2270 1700,2262 1715,2268 M1690,2330 L1750,2310 M1690,2275 L1700,2255" stroke-width="4"/>
</g>
<!-- 118 screw -->
<g fill="none" stroke="#000" stroke-linejoin="round" stroke-linecap="round">
<path d="M1485,1630 L1545,1652 C1555,1655 1562,1665 1555,1672 L1488,1655" stroke-width="5" fill="#fff"/>
<ellipse cx="1483" cy="1643" rx="14" ry="17" stroke-width="6" fill="#fff"/>
<path d="M1505,1640 L1502,1655 M1517,1645 L1514,1660 M1529,1649 L1526,1664 M1541,1653 L1538,1668" stroke-width="5"/>
</g>
<!-- 116 -->
<g fill="none" stroke="#000" stroke-linejoin="round" stroke-linecap="round">
<path d="M1838,2030 L1840,2065 L1865,2065 L1880,2055 L1955,2030 L1980,2030 L1985,1995 L1975,1985 L1958,1987 L1948,2000 L1870,2020 L1862,2015 L1840,2020 Z" stroke-width="5" fill="#fff"/>
<path d="M1845,2028 L1862,2024 L1868,2035 L1950,2010 L1960,1995 L1978,1993" stroke-width="3"/>
<circle cx="1882" cy="2040" r="2" stroke-width="3"/>
<circle cx="1955" cy="2010" r="2" stroke-width="3"/>
</g>

<!-- g_switch104.svg -->
<g fill="none" stroke="#000" stroke-linejoin="round" stroke-linecap="round">
<g stroke-width="16">
<path d="M2165,1825 C2190,1812 2230,1795 2270,1792 C2300,1792 2330,1805 2335,1830 C2338,1848 2325,1862 2300,1872"/>
<path d="M2100,1897 C2140,1885 2180,1870 2200,1867 C2230,1862 2255,1870 2262,1905"/>
<path d="M2230,1902 C2300,1880 2360,1855 2400,1845 C2430,1840 2460,1860 2475,1890 C2482,1915 2470,1945 2440,1955 C2410,1960 2390,1955 2370,1950"/>
<path d="M2340,2022 C2380,2005 2420,1995 2445,1985 C2455,1978 2450,1968 2430,1968 C2400,1968 2350,1968 2320,1965"/>
</g>
<g stroke-width="6" stroke="#fff">
<path d="M2165,1825 C2190,1812 2230,1795 2270,1792 C2300,1792 2330,1805 2335,1830 C2338,1848 2325,1862 2300,1872"/>
<path d="M2100,1897 C2140,1885 2180,1870 2200,1867 C2230,1862 2255,1870 2262,1905"/>
<path d="M2230,1902 C2300,1880 2360,1855 2400,1845 C2430,1840 2460,1860 2475,1890 C2482,1915 2470,1945 2440,1955 C2410,1960 2390,1955 2370,1950"/>
<path d="M2340,2022 C2380,2005 2420,1995 2445,1985 C2455,1978 2450,1968 2430,1968 C2400,1968 2350,1968 2320,1965"/>
</g>
<g stroke-width="5" fill="#fff">
<path d="M2097,1850 L2150,1830 L2168,1826 L2165,1836 L2150,1840 L2100,1856 C2092,1858 2090,1852 2097,1850 Z"/>
<path d="M2030,1920 L2090,1900 L2105,1896 L2105,1908 L2090,1910 L2035,1926 C2025,1928 2024,1922 2030,1920 Z"/>
<path d="M2162,1925 L2220,1905 L2233,1900 L2233,1912 L2220,1914 L2167,1932 C2157,1934 2156,1927 2162,1925 Z"/>
<path d="M2277,2048 L2330,2027 L2342,2022 L2342,2034 L2330,2036 L2282,2054 C2272,2056 2271,2050 2277,2048 Z"/>
</g>
<circle cx="2087" cy="1904" r="6" stroke-width="4" fill="#fff"/>
<circle cx="2220" cy="1910" r="6" stroke-width="4" fill="#fff"/>
<circle cx="2332" cy="2030" r="6" stroke-width="4" fill="#fff"/>
<!-- switch body -->
<path d="M2262,1935 L2262,1910 M2300,1925 L2302,1900" stroke-width="10"/>
<path d="M2262,1935 L2262,1910 M2300,1925 L2302,1900" stroke-width="4" stroke="#fff"/>
<path d="M2257,1940 L2345,1905 L2392,1927 L2392,1965 L2302,1992 L2257,1972 Z" stroke-width="5" fill="#fff"/>
<path d="M2257,1940 L2300,1950 L2392,1927 M2300,1950 L2302,1992" stroke-width="4"/>
<path d="M2260,1972 L2260,2000 M2300,1992 L2300,2015 M2390,1965 L2385,1982" stroke-width="8"/>
<circle cx="2360" cy="1920" r="3" stroke-width="3"/>
<circle cx="2290" cy="1942" r="3" stroke-width="3"/>
</g>

<!-- h_right.svg -->
<g fill="none" stroke="#000" stroke-linejoin="round" stroke-linecap="round">
<!-- 110 pin -->
<path d="M1942,2170 C1950,2165 1975,2170 1987,2180 L1972,2192 L1972,2227 C1970,2232 1962,2232 1960,2227 L1955,2190 C1948,2185 1942,2178 1942,2170 Z" stroke-width="5" fill="#fff"/>
<path d="M1955,2190 L1972,2192" stroke-width="3"/>
<!-- 111 lever -->
<path d="M1840,2265 L1870,2247 L1935,2272 L1960,2265 C1975,2258 1990,2265 1995,2272 L2040,2250 L2060,2260 L2025,2282 L1985,2292 L1975,2285 L1965,2300 L1945,2300 L1890,2312 L1845,2290 Z" stroke-width="5" fill="#fff"/>
<path d="M1848,2272 L1895,2290 L1940,2282 M1895,2290 L1892,2310 M1860,2285 L1862,2300 M1872,2290 L1874,2305 M1884,2294 L1886,2308" stroke-width="3"/>
<path d="M1870,2252 L1920,2280 M1990,2280 L2040,2258" stroke-width="3"/>
<ellipse cx="1960" cy="2275" rx="12" ry="6" stroke-width="3"/>
<!-- 103 switch -->
<path d="M1880,2405 L1950,2385 L1958,2395 L1960,2415 L1988,2410 L1990,2530 L1975,2555 C1960,2562 1945,2562 1935,2562 C1915,2558 1905,2548 1902,2540 L1902,2440 C1890,2435 1880,2420 1880,2405 Z" stroke-width="5" fill="#fff"/>
<path d="M1890,2410 L1900,2425 L1960,2410 M1902,2440 L1960,2420 L1965,2550 M1910,2415 L1935,2405" stroke-width="3"/>
<path d="M2000,2410 L2040,2395 L2087,2415 L2085,2520 L2015,2542 L2002,2530 Z" stroke-width="5" fill="#fff"/>
<path d="M2000,2440 L2087,2420 M2012,2440 L2015,2542" stroke-width="3"/>
<path d="M2010,2450 L2022,2448 L2020,2458 M2052,2440 L2058,2430 L2064,2440 Z" stroke-width="3"/>
<circle cx="2057" cy="2497" r="26" stroke-width="5" fill="#fff"/>
<circle cx="2062" cy="2494" r="20" stroke-width="3"/>
<!-- 129 screw -->
<path d="M2008,2585 L2008,2565 C2008,2558 2022,2558 2022,2565 L2022,2585" stroke-width="6"/>
<ellipse cx="2015" cy="2590" rx="14" ry="8" stroke-width="5" fill="#fff"/>
<!-- right housing 117 -->
<path d="M2530,2272 C2600,2250 2689,2220 2750,2195 C2800,2175 2837,2160 2855,2150 C2866,2135 2868,2102 2880,2099 C2905,2105 2924,2140 2924,2175 C2924,2190 2915,2200 2904,2204 C2925,2240 2945,2270 2956,2294 C2980,2340 2995,2380 3005,2430 C3020,2510 3026,2580 3028,2660 C3030,2720 3030,2760 3028,2791 C3025,2815 3015,2835 2985,2854 L2911,2861 L2852,2857 C2840,2850 2833,2840 2833,2825 C2835,2800 2844,2780 2844,2768 L2848,2643 L2837,2631 L2852,2602 L2870,2598 L2874,2635 L2859,2494 L2644,2576 L2541,2606 L2430,2613 L2415,2576 L2433,2565 L2470,2554 L2470,2524 L2511,2509 C2525,2490 2535,2470 2538,2440 C2542,2400 2535,2360 2496,2324 L2437,2317 L2481,2306 L2496,2272 Z" stroke-width="6" fill="#fff"/>
<path d="M2545,2282 C2650,2245 2760,2205 2850,2150 C2875,2135 2890,2120 2900,2110 M2550,2290 C2650,2255 2760,2215 2860,2160" stroke-width="3"/>
<ellipse cx="2849" cy="2126" rx="15" ry="18" stroke-width="5" fill="#fff"/><ellipse cx="2868" cy="2125" rx="10" ry="16" stroke-width="4"/>
<path d="M2530,2272 C2540,2350 2550,2480 2560,2600" stroke-width="4"/>
<path d="M2515,2276 L2520,2320 L2541,2345 M2500,2290 L2525,2285 L2530,2320 M2500,2335 L2530,2330" stroke-width="3"/>
<ellipse cx="2525" cy="2300" rx="5" ry="9" stroke-width="3"/>
<path d="M2435,2590 L2470,2580 C2500,2575 2530,2560 2540,2545 M2440,2605 L2520,2600 C2540,2595 2545,2585 2550,2570 M2470,2592 L2472,2605" stroke-width="3"/>
<path d="M2659,2294 C2665,2288 2680,2285 2700,2285 L2867,2287 L2862,2485 L2644,2576 C2648,2480 2652,2380 2659,2294 Z" stroke-width="5"/>
<path d="M2674,2376 L2859,2313 L2859,2443 L2674,2517 Z" stroke-width="3"/>
<path d="M2872,2300 C2895,2285 2925,2285 2940,2300 C2952,2340 2950,2400 2935,2430 L2873,2437 Z" stroke-width="4"/>
<path d="M2882,2322 L2925,2300 M2882,2342 L2935,2318 M2882,2362 L2938,2338 M2882,2382 L2938,2358 M2882,2402 L2935,2378 M2882,2422 L2928,2400" stroke-width="4"/>
<path d="M2800,2482 C2815,2465 2850,2460 2858,2468 C2862,2485 2850,2495 2805,2505 C2795,2500 2795,2490 2800,2482 Z" stroke-width="4"/>
<path d="M2887,2483 C2900,2470 2950,2440 2970,2428 C2976,2428 2979,2432 2979,2434 C2990,2520 3000,2620 3007,2691 C3008,2710 3007,2725 2992,2742 L2933,2774 C2925,2776 2920,2770 2918,2759 C2910,2700 2900,2640 2894,2583 C2890,2540 2887,2500 2887,2483 Z" stroke-width="4"/>
<defs><clipPath id="gripclip"><path d="M2887,2483 C2900,2470 2950,2440 2970,2428 C2976,2428 2979,2432 2979,2434 C2990,2520 3000,2620 3007,2691 C3008,2710 3007,2725 2992,2742 L2933,2774 C2925,2776 2920,2770 2918,2759 C2910,2700 2900,2640 2894,2583 C2890,2540 2887,2500 2887,2483 Z"/></clipPath></defs><g clip-path="url(#gripclip)"><polyline points="2913,2484 2902,2496 2915,2508 2904,2520 2917,2532 2906,2544 2919,2556 2908,2568 2921,2580 2910,2592 2923,2604 2912,2616 2925,2628 2914,2640 2927,2652 2916,2664 2929,2676 2918,2688 2931,2700 2920,2712 2933,2724 2922,2736 2935,2748 2924,2760" stroke-width="5"/>
<polyline points="2918,2472 2931,2484 2920,2496 2933,2508 2922,2520 2935,2532 2924,2544 2937,2556 2926,2568 2939,2580 2928,2592 2941,2604 2930,2616 2943,2628 2932,2640 2945,2652 2934,2664 2947,2676 2936,2688 2949,2700 2938,2712 2951,2724 2940,2736 2953,2748 2942,2760" stroke-width="5"/>
<polyline points="2947,2460 2936,2472 2949,2484 2938,2496 2951,2508 2940,2520 2953,2532 2942,2544 2955,2556 2944,2568 2957,2580 2946,2592 2959,2604 2948,2616 2961,2628 2950,2640 2963,2652 2952,2664 2965,2676 2954,2688 2967,2700 2956,2712 2969,2724 2958,2736 2971,2748" stroke-width="5"/>
<polyline points="2965,2460 2954,2472 2967,2484 2956,2496 2969,2508 2958,2520 2971,2532 2960,2544 2973,2556 2962,2568 2975,2580 2964,2592 2977,2604 2966,2616 2979,2628 2968,2640 2981,2652 2970,2664 2983,2676 2972,2688 2985,2700 2974,2712 2987,2724 2976,2736" stroke-width="5"/>
<path d="M2954,2470 L2964,2474 M2959,2465 L2959,2476" stroke-width="4.5"/>
<path d="M2938,2495 L2948,2499 M2943,2490 L2943,2501" stroke-width="4.5"/>
<path d="M2956,2495 L2966,2499 M2961,2490 L2961,2501" stroke-width="4.5"/>
<path d="M2922,2520 L2932,2524 M2927,2515 L2927,2526" stroke-width="4.5"/>
<path d="M2940,2520 L2950,2524 M2945,2515 L2945,2526" stroke-width="4.5"/>
<path d="M2958,2520 L2968,2524 M2963,2515 L2963,2526" stroke-width="4.5"/>
<path d="M2924,2545 L2934,2549 M2929,2540 L2929,2551" stroke-width="4.5"/>
<path d="M2942,2545 L2952,2549 M2947,2540 L2947,2551" stroke-width="4.5"/>
<path d="M2960,2545 L2970,2549 M2965,2540 L2965,2551" stroke-width="4.5"/>
<path d="M2926,2570 L2936,2574 M2931,2565 L2931,2576" stroke-width="4.5"/>
<path d="M2944,2570 L2954,2574 M2949,2565 L2949,2576" stroke-width="4.5"/>
<path d="M2962,2570 L2972,2574 M2967,2565 L2967,2576" stroke-width="4.5"/>
<path d="M2928,2595 L2938,2599 M2933,2590 L2933,2601" stroke-width="4.5"/>
<path d="M2946,2595 L2956,2599 M2951,2590 L2951,2601" stroke-width="4.5"/>
<path d="M2964,2595 L2974,2599 M2969,2590 L2969,2601" stroke-width="4.5"/>
<path d="M2931,2620 L2941,2624 M2936,2615 L2936,2626" stroke-width="4.5"/>
<path d="M2949,2620 L2959,2624 M2954,2615 L2954,2626" stroke-width="4.5"/>
<path d="M2967,2620 L2977,2624 M2972,2615 L2972,2626" stroke-width="4.5"/>
<path d="M2933,2645 L2943,2649 M2938,2640 L2938,2651" stroke-width="4.5"/>
<path d="M2951,2645 L2961,2649 M2956,2640 L2956,2651" stroke-width="4.5"/>
<path d="M2969,2645 L2979,2649 M2974,2640 L2974,2651" stroke-width="4.5"/>
<path d="M2935,2670 L2945,2674 M2940,2665 L2940,2676" stroke-width="4.5"/>
<path d="M2953,2670 L2963,2674 M2958,2665 L2958,2676" stroke-width="4.5"/>
<path d="M2971,2670 L2981,2674 M2976,2665 L2976,2676" stroke-width="4.5"/>
<path d="M2937,2695 L2947,2699 M2942,2690 L2942,2701" stroke-width="4.5"/>
<path d="M2955,2695 L2965,2699 M2960,2690 L2960,2701" stroke-width="4.5"/>
<path d="M2973,2695 L2983,2699 M2978,2690 L2978,2701" stroke-width="4.5"/>
<path d="M2939,2720 L2949,2724 M2944,2715 L2944,2726" stroke-width="4.5"/>
<path d="M2957,2720 L2967,2724 M2962,2715 L2962,2726" stroke-width="4.5"/>
<path d="M2975,2720 L2985,2724 M2980,2715 L2980,2726" stroke-width="4.5"/>
<path d="M2941,2745 L2951,2749 M2946,2740 L2946,2751" stroke-width="4.5"/>
<path d="M2959,2745 L2969,2749 M2964,2740 L2964,2751" stroke-width="4.5"/>
<path d="M2977,2745 L2987,2749 M2982,2740 L2982,2751" stroke-width="4.5"/>
</g>
<ellipse cx="2929" cy="2549" rx="28" ry="39" transform="rotate(-10 2929 2549)" stroke-width="5" fill="#fff"/>
<ellipse cx="2931" cy="2549" rx="20" ry="31" transform="rotate(-10 2931 2549)" stroke-width="4"/>
<path d="M2922,2522 C2910,2535 2905,2560 2915,2578 C2918,2560 2922,2540 2930,2522 Z" fill="#000" stroke-width="4"/>
<!-- 116 right -->
<path d="M2312,2435 L2315,2473 L2335,2473 L2350,2462 L2425,2440 L2455,2440 L2460,2395 L2448,2387 L2430,2390 L2422,2400 L2345,2420 L2338,2418 L2312,2420 Z" stroke-width="5" fill="#fff"/>
<path d="M2318,2428 L2338,2425 L2345,2432 L2422,2410 L2430,2398 L2452,2395" stroke-width="3"/>
</g>

<!-- i_armature.svg -->
<g fill="none" stroke="#000" stroke-linejoin="round" stroke-linecap="round">
<path d="M505,2868 L662,2818 L720,2815 L740,2835 L745,2905 L716,2925 L694,2936 L548,2982 Z" stroke-width="7" fill="#fff"/>
<path d="M560,2880 L700,2835 L705,2843 L565,2888 Z" stroke-width="4"/>
<path d="M562,2896 L700,2851 L705,2859 L567,2904 Z" stroke-width="4"/>
<path d="M564,2912 L700,2867 L705,2875 L569,2920 Z" stroke-width="4"/>
<path d="M566,2928 L700,2883 L705,2891 L571,2936 Z" stroke-width="4"/>
<path d="M568,2944 L700,2899 L705,2907 L573,2952 Z" stroke-width="4"/>
<path d="M570,2960 L700,2915 L705,2923 L575,2968 Z" stroke-width="4"/>
<path d="M700,2830 L735,2830 L740,2900 L705,2920" stroke-width="4" fill="#000"/>
<ellipse cx="525" cy="2925" rx="30" ry="62" transform="rotate(-12 525 2925)" stroke-width="6" fill="#fff"/>
<ellipse cx="540" cy="2920" rx="22" ry="55" transform="rotate(-12 540 2920)" stroke-width="4"/>
<line x1="525" y1="2886" x2="527" y2="2869" stroke-width="6"/>
<line x1="530" y1="2892" x2="536" y2="2877" stroke-width="6"/>
<line x1="534" y1="2901" x2="542" y2="2890" stroke-width="6"/>
<line x1="537" y1="2913" x2="547" y2="2907" stroke-width="6"/>
<line x1="538" y1="2926" x2="548" y2="2926" stroke-width="6"/>
<line x1="537" y1="2939" x2="546" y2="2945" stroke-width="6"/>
<line x1="534" y1="2950" x2="542" y2="2961" stroke-width="6"/>
<line x1="530" y1="2959" x2="535" y2="2974" stroke-width="6"/>
<line x1="524" y1="2964" x2="526" y2="2981" stroke-width="6"/>
<ellipse cx="440" cy="2952" rx="78" ry="104" transform="rotate(-10 440 2952)" fill="#000" stroke-width="4"/>
<polygon points="518,2952 524,2970 514,2984 516,3003 503,3013 500,3032 486,3036 479,3053 464,3051 453,3064 440,3056 427,3064 416,3051 401,3053 394,3036 380,3032 377,3013 364,3003 366,2984 356,2970 362,2952 356,2934 366,2920 364,2901 377,2891 380,2872 394,2868 401,2851 416,2853 427,2840 440,2848 453,2840 464,2853 479,2851 486,2868 500,2872 503,2891 516,2901 514,2920 524,2934" transform="rotate(-10 440 2952)" fill="#000" stroke="#000" stroke-width="3"/>
<line x1="475" y1="2952" x2="510" y2="2963" stroke="#fff" stroke-width="7" transform="rotate(-10 440 2952)"/>
<line x1="474" y1="2964" x2="506" y2="2984" stroke="#fff" stroke-width="7" transform="rotate(-10 440 2952)"/>
<line x1="472" y1="2975" x2="499" y2="3002" stroke="#fff" stroke-width="7" transform="rotate(-10 440 2952)"/>
<line x1="467" y1="2984" x2="489" y2="3019" stroke="#fff" stroke-width="7" transform="rotate(-10 440 2952)"/>
<line x1="462" y1="2993" x2="477" y2="3032" stroke="#fff" stroke-width="7" transform="rotate(-10 440 2952)"/>
<line x1="455" y1="2999" x2="463" y2="3041" stroke="#fff" stroke-width="7" transform="rotate(-10 440 2952)"/>
<line x1="448" y1="3003" x2="447" y2="3045" stroke="#fff" stroke-width="7" transform="rotate(-10 440 2952)"/>
<line x1="440" y1="3004" x2="432" y2="3045" stroke="#fff" stroke-width="7" transform="rotate(-10 440 2952)"/>
<line x1="432" y1="3003" x2="416" y2="3040" stroke="#fff" stroke-width="7" transform="rotate(-10 440 2952)"/>
<line x1="425" y1="2999" x2="402" y2="3031" stroke="#fff" stroke-width="7" transform="rotate(-10 440 2952)"/>
<line x1="418" y1="2993" x2="390" y2="3018" stroke="#fff" stroke-width="7" transform="rotate(-10 440 2952)"/>
<line x1="413" y1="2984" x2="380" y2="3001" stroke="#fff" stroke-width="7" transform="rotate(-10 440 2952)"/>
<line x1="408" y1="2975" x2="374" y2="2982" stroke="#fff" stroke-width="7" transform="rotate(-10 440 2952)"/>
<line x1="406" y1="2964" x2="370" y2="2962" stroke="#fff" stroke-width="7" transform="rotate(-10 440 2952)"/>
<line x1="405" y1="2952" x2="370" y2="2941" stroke="#fff" stroke-width="7" transform="rotate(-10 440 2952)"/>
<line x1="406" y1="2940" x2="374" y2="2920" stroke="#fff" stroke-width="7" transform="rotate(-10 440 2952)"/>
<line x1="408" y1="2929" x2="381" y2="2902" stroke="#fff" stroke-width="7" transform="rotate(-10 440 2952)"/>
<line x1="413" y1="2920" x2="391" y2="2885" stroke="#fff" stroke-width="7" transform="rotate(-10 440 2952)"/>
<line x1="418" y1="2911" x2="403" y2="2872" stroke="#fff" stroke-width="7" transform="rotate(-10 440 2952)"/>
<line x1="425" y1="2905" x2="417" y2="2863" stroke="#fff" stroke-width="7" transform="rotate(-10 440 2952)"/>
<line x1="432" y1="2901" x2="433" y2="2859" stroke="#fff" stroke-width="7" transform="rotate(-10 440 2952)"/>
<line x1="440" y1="2900" x2="448" y2="2859" stroke="#fff" stroke-width="7" transform="rotate(-10 440 2952)"/>
<line x1="448" y1="2901" x2="464" y2="2864" stroke="#fff" stroke-width="7" transform="rotate(-10 440 2952)"/>
<line x1="455" y1="2905" x2="478" y2="2873" stroke="#fff" stroke-width="7" transform="rotate(-10 440 2952)"/>
<line x1="462" y1="2911" x2="490" y2="2886" stroke="#fff" stroke-width="7" transform="rotate(-10 440 2952)"/>
<line x1="467" y1="2920" x2="500" y2="2903" stroke="#fff" stroke-width="7" transform="rotate(-10 440 2952)"/>
<line x1="472" y1="2929" x2="506" y2="2922" stroke="#fff" stroke-width="7" transform="rotate(-10 440 2952)"/>
<line x1="474" y1="2940" x2="510" y2="2942" stroke="#fff" stroke-width="7" transform="rotate(-10 440 2952)"/>
<ellipse cx="425" cy="2957" rx="34" ry="54" transform="rotate(-10 425 2957)" stroke-width="6" fill="#fff"/>
<ellipse cx="430" cy="2955" rx="18" ry="32" transform="rotate(-10 430 2955)" stroke-width="4"/>
<path d="M430,2948 L393,2952 L345,2960 C330,2965 330,2985 345,2988 L394,2986 L430,2975" stroke-width="6" fill="#fff"/>
<path d="M360,2962 L362,2986 M350,2970 L390,2964" stroke-width="3"/>
<path d="M729,2830 L745,2815 L790,2810 C800,2812 805,2850 802,2890 L760,2900 L740,2905 C735,2880 730,2850 729,2830 Z" stroke-width="6" fill="#fff"/>
<line x1="755" y1="2825" x2="798" y2="2817" stroke-width="4"/>
<line x1="755" y1="2837" x2="798" y2="2829" stroke-width="4"/>
<line x1="755" y1="2849" x2="798" y2="2841" stroke-width="4"/>
<line x1="755" y1="2861" x2="798" y2="2853" stroke-width="4"/>
<line x1="755" y1="2873" x2="798" y2="2865" stroke-width="4"/>
<line x1="755" y1="2885" x2="798" y2="2877" stroke-width="4"/>
<path d="M745,2815 C755,2840 758,2880 748,2902" stroke-width="6"/>
<path d="M800,2822 L830,2816 L843,2816 C848,2820 848,2845 843,2850 L830,2850 L803,2855" stroke-width="6" fill="#fff"/>
<path d="M818,2818 C822,2830 822,2845 818,2852" stroke-width="3"/>
</g>
<g fill="none" stroke="#000"><path d="M222,2956 L236,2953 C273.4,2956 273.4,3070 236,3068 L222,3070" stroke-width="6" fill="#fff"/><ellipse cx="222" cy="3013" rx="34" ry="57" transform="rotate(-8 222 3013)" stroke-width="6" fill="#fff"/><ellipse cx="224" cy="3013" rx="24" ry="43" transform="rotate(-8 222 3013)" stroke-width="3"/><ellipse cx="225" cy="3013" rx="20" ry="35" transform="rotate(-8 222 3013)" stroke-width="3"/><ellipse cx="226" cy="3013" rx="12" ry="22" transform="rotate(-8 222 3013)" stroke-width="4"/></g>
<g fill="none" stroke="#000"><path d="M884,2757 L898,2754 C936.5,2757 936.5,2869 898,2867 L884,2869" stroke-width="6" fill="#fff"/><ellipse cx="884" cy="2813" rx="35" ry="56" transform="rotate(-8 884 2813)" stroke-width="6" fill="#fff"/><ellipse cx="886" cy="2813" rx="25" ry="42" transform="rotate(-8 884 2813)" stroke-width="3"/><ellipse cx="887" cy="2813" rx="21" ry="35" transform="rotate(-8 884 2813)" stroke-width="3"/><ellipse cx="888" cy="2813" rx="12" ry="21" transform="rotate(-8 884 2813)" stroke-width="4"/></g>
<g fill="none" stroke="#000">
<path d="M955,2725 L975,2722 C1010,2730 1030,2780 1030,2810 C1030,2840 1015,2852 995,2852 L975,2850" stroke-width="6" fill="#fff"/>
<ellipse cx="968" cy="2788" rx="38" ry="64" transform="rotate(-15 968 2788)" stroke-width="6" fill="#fff"/>
<ellipse cx="972" cy="2788" rx="28" ry="52" transform="rotate(-15 972 2788)" stroke-width="3"/>
<ellipse cx="985" cy="2790" rx="18" ry="44" transform="rotate(-15 985 2790)" stroke-width="5"/>
<ellipse cx="992" cy="2792" rx="12" ry="36" transform="rotate(-15 992 2792)" stroke-width="3"/>
</g>
<!-- j_field.svg -->
<g fill="none" stroke="#000" stroke-linejoin="round" stroke-linecap="round">
<!-- field 102 -->
<path d="M1021,2716 L1037,2685 L1066,2660 L1077,2638 L1095,2631 L1177,2607 L1278,2585 L1302,2582 L1304,2589 L1296,2596 L1309,2611 L1349,2608 L1352,2612 L1340,2625 L1327,2631 L1333,2660 L1362,2683 L1374,2705 L1374,2738 L1362,2772 L1333,2787 L1322,2790 L1307,2794 L1188,2828 L1153,2845 L1135,2843 L1104,2823 L1077,2796 L1037,2765 L1021,2734 Z" stroke-width="8" fill="#fff"/>
<path d="M1330,2668 C1345,2690 1350,2740 1335,2785 M1342,2676 C1356,2700 1360,2740 1348,2780 M1354,2686 C1366,2705 1368,2740 1358,2772 M1364,2698 C1372,2715 1372,2745 1366,2762" stroke-width="5"/>
<path d="M1162,2672 C1175,2700 1185,2760 1186,2805 L1184,2839" stroke-width="6"/>
<path d="M1150,2655 C1165,2680 1175,2700 1179,2716" stroke-width="4"/>
<path d="M1188,2703 L1320,2667 L1327,2665 L1327,2792 M1188,2738 L1322,2705 M1188,2768 L1320,2735 M1188,2822 L1318,2783" stroke-width="5"/>
<path d="M1188,2740 L1318,2708 L1318,2738 L1188,2770 Z" stroke-width="3"/>
<path d="M1150,2630 C1170,2650 1180,2665 1185,2680 M1170,2622 C1190,2640 1200,2655 1205,2665 M1195,2615 C1215,2630 1225,2645 1230,2655 M1220,2608 C1240,2620 1250,2635 1255,2645 M1245,2602 C1265,2612 1275,2625 1280,2635 M1270,2596 C1290,2605 1298,2615 1302,2625" stroke-width="3"/>
<path d="M1290,2600 C1310,2630 1320,2660 1322,2680" stroke-width="4"/>
<path d="M1040,2700 C1060,2680 1090,2665 1110,2660 M1045,2712 C1065,2695 1090,2680 1115,2672" stroke-width="4"/>
<ellipse cx="1128" cy="2653" rx="8" ry="13" stroke-width="5"/>
<path d="M1100,2680 C1105,2720 1115,2780 1130,2815 M1115,2685 C1130,2700 1140,2720 1145,2760 L1150,2800" stroke-width="4"/>
<path d="M1140,2770 L1155,2775 L1160,2840 L1145,2842 Z" stroke-width="4"/>
<path d="M1040,2760 C1050,2770 1060,2780 1070,2785 M1060,2790 L1110,2780 M1095,2800 C1100,2815 1110,2830 1125,2838" stroke-width="4"/>
<path d="M1045,2690 C1070,2670 1110,2655 1140,2650 M1050,2698 C1075,2680 1110,2668 1145,2662 M1060,2705 C1085,2690 1115,2678 1150,2672" stroke-width="5"/>
<path d="M1035,2740 C1045,2760 1060,2775 1080,2785 M1045,2735 C1060,2755 1070,2770 1090,2778" stroke-width="4"/>
<path d="M1150,2690 C1160,2720 1165,2770 1160,2830 M1140,2700 C1150,2730 1152,2780 1148,2830 M1130,2705 C1140,2740 1142,2790 1138,2830" stroke-width="4"/>
<path d="M1075,2700 C1090,2690 1110,2695 1112,2712 C1112,2730 1095,2740 1080,2735 M1040,2720 L1070,2730 L1075,2745 L1045,2750" stroke-width="5"/>
<path d="M1105,2760 C1120,2770 1125,2790 1120,2810 M1110,2740 C1130,2750 1140,2780 1135,2815" stroke-width="4"/>
<!-- 115 spring -->
<path d="M1454,2459 C1460,2452 1478,2450 1485,2458 L1502,2515 C1490,2505 1475,2480 1454,2459 Z" fill="#000" stroke-width="4"/>
<ellipse cx="1514" cy="2482" rx="25" ry="36" transform="rotate(-10 1514 2482)" stroke-width="6" fill="#fff"/>
<path d="M1505,2470 C1520,2465 1525,2490 1512,2500 C1500,2505 1495,2485 1505,2478 M1498,2465 C1525,2455 1535,2500 1510,2510" stroke-width="5"/>
<ellipse cx="1463" cy="2461" rx="5" ry="3" fill="#fff" stroke-width="2"/>
<!-- 112 brush holder -->
<path d="M1427,2511 L1441,2507 L1463,2517 L1474,2517 L1524,2549 L1526,2601 L1514,2605 L1486,2595 L1445,2599 L1427,2587 L1426,2522 Z" stroke-width="7" fill="#fff"/>
<path d="M1470,2540 C1470,2560 1472,2575 1478,2578 C1485,2580 1488,2565 1486,2545 Z" fill="#000" stroke-width="3"/>
<path d="M1436,2530 L1460,2525 L1475,2535 M1450,2545 L1452,2598 M1490,2565 L1520,2560 M1490,2565 L1488,2595 M1515,2560 L1518,2600" stroke-width="4"/>
<ellipse cx="1500" cy="2578" rx="5" ry="7" stroke-width="4"/>
<ellipse cx="1497" cy="2593" rx="5" ry="3" stroke-width="3"/>
<!-- 114 -->
<path d="M1543,2508 L1575,2500 L1592,2511 L1593,2522 L1628,2525 L1631,2531 L1648,2534 L1650,2540 L1631,2546 L1630,2558 L1595,2569 L1569,2561 L1564,2549 L1537,2546 L1538,2535 L1543,2522 Z" stroke-width="6" fill="#fff"/>
<path d="M1555,2512 L1580,2506 L1585,2520 L1560,2525 Z M1600,2528 L1628,2525 L1628,2540 L1602,2545 Z M1600,2545 L1602,2568" stroke-width="3.5"/>
<path d="M1570,2530 L1590,2530 L1583,2540" stroke-width="3"/>
<!-- 113 -->
<path d="M1547,2580 L1560,2578 L1562,2573 L1578,2575 L1582,2582 L1580,2618 L1565,2625 L1550,2623 C1546,2600 1546,2590 1547,2580 Z" stroke-width="6" fill="#fff"/>
<path d="M1556,2585 L1555,2620 M1560,2600 L1578,2602" stroke-width="3"/>
<!-- 105 wire + holder -->
<path d="M1468,2655 C1480,2675 1510,2695 1550,2699 C1590,2700 1615,2680 1620,2655 C1622,2635 1605,2628 1590,2630 C1570,2635 1555,2645 1543,2652" stroke-width="9"/>
<path d="M1470,2657 C1482,2676 1510,2694 1550,2697 C1588,2698 1613,2680 1618,2655" stroke="#fff" stroke-width="2"/>
<path d="M1543,2652 L1545,2661 C1555,2662 1570,2655 1590,2642 L1595,2632" stroke-width="6" fill="#fff"/>
<ellipse cx="1583" cy="2640" rx="5" ry="4" fill="#fff" stroke-width="3"/>
<path d="M1439,2622 L1456,2620 L1460,2617 L1478,2620 L1479,2665 L1472,2675 L1445,2682 L1438,2680 Z" stroke-width="6" fill="#fff"/>
<path d="M1447,2630 L1444,2678 M1460,2625 L1462,2640 L1478,2640" stroke-width="3"/>
<!-- lower brush holder -->
<path d="M1427,2740 L1455,2735 L1540,2782 L1544,2790 L1562,2787 L1564,2795 L1545,2800 L1540,2820 L1527,2835 L1515,2836 L1502,2831 L1450,2847 L1424,2832 L1422,2785 L1427,2760 Z" stroke-width="7" fill="#fff"/>
<path d="M1440,2750 L1465,2745 L1468,2775 L1445,2785 M1465,2745 L1535,2785 M1445,2785 L1450,2845 M1468,2775 L1500,2770 L1502,2828 M1520,2790 L1525,2830" stroke-width="4"/>
<path d="M1495,2785 L1510,2780 L1515,2800 L1500,2805 Z M1500,2812 L1512,2810 L1513,2825 L1502,2826 Z" stroke-width="4"/>
</g>

<!-- k_box171.svg -->
<g fill="none" stroke="#000" stroke-linejoin="round" stroke-linecap="round">
<!-- bolt -->
<path d="M280,1500 L276,1770 L311,1772 L320,1500" stroke-width="6" fill="#fff"/>
<path d="M272,1478 C272,1462 285,1460 300,1460 C318,1460 330,1465 330,1478 L330,1492 C330,1502 315,1505 300,1505 C285,1505 272,1502 272,1492 Z" stroke-width="6" fill="#fff"/>
<path d="M272,1480 C285,1490 318,1490 330,1480 M290,1485 L290,1503 M312,1485 L312,1503" stroke-width="3"/>
<path d="M280,1720 L312,1718 M280,1730 L312,1728 M279,1740 L311,1738 M279,1750 L311,1748 M278,1760 L311,1758" stroke-width="4"/>
<!-- clamp -->
<path d="M194,1779 C225,1770 260,1770 300,1775 C325,1778 340,1795 340,1815 C340,1835 335,1850 320,1856 L318,1895 L319,2035 C326,2040 326,2070 318,2078 C300,2086 255,2086 238,2078 C230,2070 230,2045 240,2036 L248,1985 C230,1970 200,1955 175,1935 C150,1912 133,1880 133,1850 C133,1810 160,1785 194,1779 Z" stroke-width="7" fill="#fff"/>
<path d="M160,1815 C145,1850 150,1905 180,1935 C205,1955 235,1955 246,1935 C256,1905 250,1860 235,1830 C218,1800 180,1795 160,1815 Z" stroke-width="6" fill="#fff"/>
<path d="M168,1828 C158,1860 165,1900 185,1925 C200,1940 215,1942 225,1938" stroke-width="4"/>
<path d="M195,1840 C210,1870 222,1905 228,1940" stroke-width="6"/>
<path d="M246,1892 C270,1898 300,1898 318,1892 M246,1895 L250,1985" stroke-width="5"/>
<path d="M240,2040 C255,2052 305,2052 320,2040" stroke-width="4"/>
<path d="M238,1790 C250,1780 300,1778 325,1790 C340,1800 342,1840 330,1852 C310,1860 270,1858 250,1852 C240,1840 236,1810 238,1790 Z" stroke-width="5" fill="#fff"/>
<ellipse cx="291" cy="1808" rx="20" ry="10" stroke-width="5"/>
<ellipse cx="278" cy="1843" rx="9" ry="12" stroke-width="5"/>
<path d="M250,1775 C245,1800 244,1830 250,1852" stroke-width="4"/>
<!-- grip -->
<path d="M228,2118 C228,2105 255,2097 280,2097 C305,2097 335,2102 338,2118 L340,2140 C348,2145 350,2155 345,2165 L338,2175 L320,2400 C315,2412 290,2417 265,2416 C240,2414 220,2408 210,2398 L225,2175 C215,2168 208,2158 210,2150 C212,2142 222,2140 228,2140 Z" stroke-width="6" fill="#fff"/>
<ellipse cx="282" cy="2120" rx="40" ry="14" stroke-width="4"/>
<ellipse cx="282" cy="2122" rx="28" ry="9" stroke-width="3"/>
<path d="M212,2152 C230,2168 330,2168 345,2152 M228,2140 C245,2150 320,2150 338,2140" stroke-width="5"/>
<path d="M226,2175 L338,2175 L320,2400 C315,2412 290,2417 265,2416 C240,2414 220,2408 210,2398 Z" fill="#000" stroke-width="4"/>
<g fill="#fff" stroke="none">
<ellipse cx="236" cy="2184" rx="7.5" ry="5" transform="rotate(-35 236 2184)"/>
<ellipse cx="253" cy="2184" rx="7.5" ry="5" transform="rotate(-35 253 2184)"/>
<ellipse cx="269" cy="2184" rx="7.5" ry="5" transform="rotate(-35 269 2184)"/>
<ellipse cx="285" cy="2184" rx="7.5" ry="5" transform="rotate(-35 285 2184)"/>
<ellipse cx="302" cy="2184" rx="7.5" ry="5" transform="rotate(-35 302 2184)"/>
<ellipse cx="318" cy="2184" rx="7.5" ry="5" transform="rotate(-35 318 2184)"/>
<ellipse cx="244" cy="2196" rx="7.5" ry="5" transform="rotate(-35 244 2196)"/>
<ellipse cx="260" cy="2196" rx="7.5" ry="5" transform="rotate(-35 260 2196)"/>
<ellipse cx="276" cy="2196" rx="7.5" ry="5" transform="rotate(-35 276 2196)"/>
<ellipse cx="293" cy="2196" rx="7.5" ry="5" transform="rotate(-35 293 2196)"/>
<ellipse cx="309" cy="2196" rx="7.5" ry="5" transform="rotate(-35 309 2196)"/>
<ellipse cx="325" cy="2196" rx="7.5" ry="5" transform="rotate(-35 325 2196)"/>
<ellipse cx="235" cy="2209" rx="7.5" ry="5" transform="rotate(-35 235 2209)"/>
<ellipse cx="251" cy="2209" rx="7.5" ry="5" transform="rotate(-35 251 2209)"/>
<ellipse cx="267" cy="2209" rx="7.5" ry="5" transform="rotate(-35 267 2209)"/>
<ellipse cx="283" cy="2209" rx="7.5" ry="5" transform="rotate(-35 283 2209)"/>
<ellipse cx="300" cy="2209" rx="7.5" ry="5" transform="rotate(-35 300 2209)"/>
<ellipse cx="316" cy="2209" rx="7.5" ry="5" transform="rotate(-35 316 2209)"/>
<ellipse cx="242" cy="2222" rx="7.5" ry="5" transform="rotate(-35 242 2222)"/>
<ellipse cx="258" cy="2222" rx="7.5" ry="5" transform="rotate(-35 258 2222)"/>
<ellipse cx="274" cy="2222" rx="7.5" ry="5" transform="rotate(-35 274 2222)"/>
<ellipse cx="291" cy="2222" rx="7.5" ry="5" transform="rotate(-35 291 2222)"/>
<ellipse cx="307" cy="2222" rx="7.5" ry="5" transform="rotate(-35 307 2222)"/>
<ellipse cx="323" cy="2222" rx="7.5" ry="5" transform="rotate(-35 323 2222)"/>
<ellipse cx="233" cy="2234" rx="7.5" ry="5" transform="rotate(-35 233 2234)"/>
<ellipse cx="249" cy="2234" rx="7.5" ry="5" transform="rotate(-35 249 2234)"/>
<ellipse cx="265" cy="2234" rx="7.5" ry="5" transform="rotate(-35 265 2234)"/>
<ellipse cx="282" cy="2234" rx="7.5" ry="5" transform="rotate(-35 282 2234)"/>
<ellipse cx="298" cy="2234" rx="7.5" ry="5" transform="rotate(-35 298 2234)"/>
<ellipse cx="314" cy="2234" rx="7.5" ry="5" transform="rotate(-35 314 2234)"/>
<ellipse cx="240" cy="2246" rx="7.5" ry="5" transform="rotate(-35 240 2246)"/>
<ellipse cx="256" cy="2246" rx="7.5" ry="5" transform="rotate(-35 256 2246)"/>
<ellipse cx="272" cy="2246" rx="7.5" ry="5" transform="rotate(-35 272 2246)"/>
<ellipse cx="289" cy="2246" rx="7.5" ry="5" transform="rotate(-35 289 2246)"/>
<ellipse cx="305" cy="2246" rx="7.5" ry="5" transform="rotate(-35 305 2246)"/>
<ellipse cx="321" cy="2246" rx="7.5" ry="5" transform="rotate(-35 321 2246)"/>
<ellipse cx="231" cy="2259" rx="7.5" ry="5" transform="rotate(-35 231 2259)"/>
<ellipse cx="247" cy="2259" rx="7.5" ry="5" transform="rotate(-35 247 2259)"/>
<ellipse cx="263" cy="2259" rx="7.5" ry="5" transform="rotate(-35 263 2259)"/>
<ellipse cx="280" cy="2259" rx="7.5" ry="5" transform="rotate(-35 280 2259)"/>
<ellipse cx="296" cy="2259" rx="7.5" ry="5" transform="rotate(-35 296 2259)"/>
<ellipse cx="312" cy="2259" rx="7.5" ry="5" transform="rotate(-35 312 2259)"/>
<ellipse cx="238" cy="2272" rx="7.5" ry="5" transform="rotate(-35 238 2272)"/>
<ellipse cx="254" cy="2272" rx="7.5" ry="5" transform="rotate(-35 254 2272)"/>
<ellipse cx="271" cy="2272" rx="7.5" ry="5" transform="rotate(-35 271 2272)"/>
<ellipse cx="287" cy="2272" rx="7.5" ry="5" transform="rotate(-35 287 2272)"/>
<ellipse cx="303" cy="2272" rx="7.5" ry="5" transform="rotate(-35 303 2272)"/>
<ellipse cx="319" cy="2272" rx="7.5" ry="5" transform="rotate(-35 319 2272)"/>
<ellipse cx="229" cy="2284" rx="7.5" ry="5" transform="rotate(-35 229 2284)"/>
<ellipse cx="245" cy="2284" rx="7.5" ry="5" transform="rotate(-35 245 2284)"/>
<ellipse cx="262" cy="2284" rx="7.5" ry="5" transform="rotate(-35 262 2284)"/>
<ellipse cx="278" cy="2284" rx="7.5" ry="5" transform="rotate(-35 278 2284)"/>
<ellipse cx="294" cy="2284" rx="7.5" ry="5" transform="rotate(-35 294 2284)"/>
<ellipse cx="310" cy="2284" rx="7.5" ry="5" transform="rotate(-35 310 2284)"/>
<ellipse cx="236" cy="2296" rx="7.5" ry="5" transform="rotate(-35 236 2296)"/>
<ellipse cx="253" cy="2296" rx="7.5" ry="5" transform="rotate(-35 253 2296)"/>
<ellipse cx="269" cy="2296" rx="7.5" ry="5" transform="rotate(-35 269 2296)"/>
<ellipse cx="285" cy="2296" rx="7.5" ry="5" transform="rotate(-35 285 2296)"/>
<ellipse cx="301" cy="2296" rx="7.5" ry="5" transform="rotate(-35 301 2296)"/>
<ellipse cx="317" cy="2296" rx="7.5" ry="5" transform="rotate(-35 317 2296)"/>
<ellipse cx="227" cy="2309" rx="7.5" ry="5" transform="rotate(-35 227 2309)"/>
<ellipse cx="244" cy="2309" rx="7.5" ry="5" transform="rotate(-35 244 2309)"/>
<ellipse cx="260" cy="2309" rx="7.5" ry="5" transform="rotate(-35 260 2309)"/>
<ellipse cx="276" cy="2309" rx="7.5" ry="5" transform="rotate(-35 276 2309)"/>
<ellipse cx="292" cy="2309" rx="7.5" ry="5" transform="rotate(-35 292 2309)"/>
<ellipse cx="308" cy="2309" rx="7.5" ry="5" transform="rotate(-35 308 2309)"/>
<ellipse cx="235" cy="2322" rx="7.5" ry="5" transform="rotate(-35 235 2322)"/>
<ellipse cx="251" cy="2322" rx="7.5" ry="5" transform="rotate(-35 251 2322)"/>
<ellipse cx="267" cy="2322" rx="7.5" ry="5" transform="rotate(-35 267 2322)"/>
<ellipse cx="283" cy="2322" rx="7.5" ry="5" transform="rotate(-35 283 2322)"/>
<ellipse cx="299" cy="2322" rx="7.5" ry="5" transform="rotate(-35 299 2322)"/>
<ellipse cx="315" cy="2322" rx="7.5" ry="5" transform="rotate(-35 315 2322)"/>
<ellipse cx="226" cy="2334" rx="7.5" ry="5" transform="rotate(-35 226 2334)"/>
<ellipse cx="242" cy="2334" rx="7.5" ry="5" transform="rotate(-35 242 2334)"/>
<ellipse cx="258" cy="2334" rx="7.5" ry="5" transform="rotate(-35 258 2334)"/>
<ellipse cx="274" cy="2334" rx="7.5" ry="5" transform="rotate(-35 274 2334)"/>
<ellipse cx="290" cy="2334" rx="7.5" ry="5" transform="rotate(-35 290 2334)"/>
<ellipse cx="306" cy="2334" rx="7.5" ry="5" transform="rotate(-35 306 2334)"/>
<ellipse cx="233" cy="2346" rx="7.5" ry="5" transform="rotate(-35 233 2346)"/>
<ellipse cx="249" cy="2346" rx="7.5" ry="5" transform="rotate(-35 249 2346)"/>
<ellipse cx="265" cy="2346" rx="7.5" ry="5" transform="rotate(-35 265 2346)"/>
<ellipse cx="281" cy="2346" rx="7.5" ry="5" transform="rotate(-35 281 2346)"/>
<ellipse cx="297" cy="2346" rx="7.5" ry="5" transform="rotate(-35 297 2346)"/>
<ellipse cx="313" cy="2346" rx="7.5" ry="5" transform="rotate(-35 313 2346)"/>
<ellipse cx="224" cy="2359" rx="7.5" ry="5" transform="rotate(-35 224 2359)"/>
<ellipse cx="240" cy="2359" rx="7.5" ry="5" transform="rotate(-35 240 2359)"/>
<ellipse cx="256" cy="2359" rx="7.5" ry="5" transform="rotate(-35 256 2359)"/>
<ellipse cx="272" cy="2359" rx="7.5" ry="5" transform="rotate(-35 272 2359)"/>
<ellipse cx="288" cy="2359" rx="7.5" ry="5" transform="rotate(-35 288 2359)"/>
<ellipse cx="304" cy="2359" rx="7.5" ry="5" transform="rotate(-35 304 2359)"/>
<ellipse cx="231" cy="2372" rx="7.5" ry="5" transform="rotate(-35 231 2372)"/>
<ellipse cx="247" cy="2372" rx="7.5" ry="5" transform="rotate(-35 247 2372)"/>
<ellipse cx="263" cy="2372" rx="7.5" ry="5" transform="rotate(-35 263 2372)"/>
<ellipse cx="279" cy="2372" rx="7.5" ry="5" transform="rotate(-35 279 2372)"/>
<ellipse cx="295" cy="2372" rx="7.5" ry="5" transform="rotate(-35 295 2372)"/>
<ellipse cx="311" cy="2372" rx="7.5" ry="5" transform="rotate(-35 311 2372)"/>
<ellipse cx="222" cy="2384" rx="7.5" ry="5" transform="rotate(-35 222 2384)"/>
<ellipse cx="238" cy="2384" rx="7.5" ry="5" transform="rotate(-35 238 2384)"/>
<ellipse cx="254" cy="2384" rx="7.5" ry="5" transform="rotate(-35 254 2384)"/>
<ellipse cx="270" cy="2384" rx="7.5" ry="5" transform="rotate(-35 270 2384)"/>
<ellipse cx="286" cy="2384" rx="7.5" ry="5" transform="rotate(-35 286 2384)"/>
<ellipse cx="302" cy="2384" rx="7.5" ry="5" transform="rotate(-35 302 2384)"/>
<ellipse cx="229" cy="2396" rx="7.5" ry="5" transform="rotate(-35 229 2396)"/>
<ellipse cx="245" cy="2396" rx="7.5" ry="5" transform="rotate(-35 245 2396)"/>
<ellipse cx="261" cy="2396" rx="7.5" ry="5" transform="rotate(-35 261 2396)"/>
<ellipse cx="277" cy="2396" rx="7.5" ry="5" transform="rotate(-35 277 2396)"/>
<ellipse cx="293" cy="2396" rx="7.5" ry="5" transform="rotate(-35 293 2396)"/>
<ellipse cx="309" cy="2396" rx="7.5" ry="5" transform="rotate(-35 309 2396)"/>
</g>
</g>
<!-- icons -->
<g fill="none" stroke="#000" stroke-linejoin="round" stroke-linecap="round">
<path d="M216,3430 L234,3424 L248,3436 L250,3445 L130,3555 L115,3555 L104,3544 L105,3535 Z" stroke-width="4" fill="#fff"/>
<path d="M232,3430 L248,3450" stroke-width="3"/>
<path d="M246,3443 L273,3405 C280,3395 290,3390 300,3390 M240,3435 L268,3400 C275,3390 285,3385 298,3386 L302,3392" stroke-width="3"/>
<path d="M118,3545 L104,3555 L96,3568 L106,3576 L120,3568 L126,3555" stroke-width="4" fill="#fff"/>
<path d="M156,3530 L168,3563 C172,3572 180,3572 183,3565 L175,3546 L185,3528" stroke-width="4"/>
<path d="M176,3510 L205,3518 C215,3520 218,3528 214,3535 L208,3533" stroke-width="4"/>
<path d="M126,3673 L131,3673 L132,3831 L126,3831 Z" stroke-width="3"/>
<path d="M138,3683 C160,3686 190,3688 208,3685 L203,3785 C185,3790 160,3788 138,3782 C143,3750 143,3710 138,3683 Z" stroke-width="3.5"/>
<path d="M186,3680 C200,3673 240,3672 272,3675 L266,3764 C245,3760 225,3762 207,3764" stroke-width="3.5"/>
<path d="M186,3680 C186,3686 195,3690 208,3688" stroke-width="3"/>
</g>

<!-- l_bottom.svg -->
<g fill="none" stroke="#000" stroke-linejoin="round" stroke-linecap="round">
<!-- 128 wire -->
<path d="M1850,2928 C1870,2945 1888,2965 1885,2990 C1882,3020 1860,3045 1848,3065 C1835,3090 1835,3140 1838,3180 L1845,3240" stroke-width="16"/>
<path d="M1850,2928 C1870,2945 1888,2965 1885,2990 C1882,3020 1860,3045 1848,3065 C1835,3090 1835,3140 1838,3180 L1845,3240" stroke-width="7" stroke="#fff"/>
<path d="M1842,3235 L1855,3323" stroke-width="11"/>
<path d="M1843,3255 L1850,3310" stroke-width="3" stroke="#fff"/>
<path d="M1800,2910 C1795,2915 1800,2920 1805,2920 L1842,2935 L1850,2925 L1808,2905 C1803,2903 1800,2905 1800,2910 Z" stroke-width="5" fill="#fff"/>
<circle cx="1850" cy="2928" r="6" stroke-width="4" fill="#fff"/>
<circle cx="1845" cy="3240" r="5" stroke-width="4" fill="#fff"/>
<!-- 124 wires -->
<path d="M2315,2978 C2335,2995 2347,3010 2347,3025 C2347,3045 2335,3065 2320,3090 C2310,3105 2310,3120 2312,3130" stroke-width="16"/>
<path d="M2315,2978 C2335,2995 2347,3010 2347,3025 C2347,3045 2335,3065 2320,3090 C2310,3105 2310,3120 2312,3130" stroke-width="7" stroke="#fff"/>
<path d="M2370,2940 C2390,2955 2405,2975 2405,2995 C2405,3020 2392,3045 2375,3075 C2365,3090 2363,3105 2363,3120" stroke-width="16"/>
<path d="M2370,2940 C2390,2955 2405,2975 2405,2995 C2405,3020 2392,3045 2375,3075 C2365,3090 2363,3105 2363,3120" stroke-width="7" stroke="#fff"/>
<path d="M2312,3130 L2315,3148 M2363,3120 L2362,3135" stroke-width="11"/>
<path d="M2275,2958 L2310,2978 L2316,2972 L2282,2952 Z M2327,2923 L2370,2940 L2374,2934 L2333,2917 Z" stroke-width="5" fill="#fff"/>
<circle cx="2315" cy="2976" r="5" stroke-width="4" fill="#fff"/>
<circle cx="2370" cy="2938" r="5" stroke-width="4" fill="#fff"/>
<circle cx="2312" cy="3128" r="5" stroke-width="4" fill="#fff"/>
<circle cx="2363" cy="3118" r="5" stroke-width="4" fill="#fff"/>
<!-- 108 -->
<path d="M2460,2883 C2550,2910 2650,2960 2710,3040 C2740,3080 2760,3120 2767,3158" stroke-width="8"/>
<path d="M2460,2883 C2550,2910 2650,2960 2710,3040 C2740,3080 2760,3120 2767,3158" stroke-width="2.5" stroke="#fff"/>
<path d="M2670,2955 C2710,2975 2750,3010 2770,3058 C2780,3090 2785,3130 2787,3163" stroke-width="8"/>
<path d="M2670,2955 C2710,2975 2750,3010 2770,3058 C2780,3090 2785,3130 2787,3163" stroke-width="2.5" stroke="#fff"/>
<path d="M2720,2935 L2727,3033 L2752,3158" stroke-width="6"/>
<ellipse cx="2717" cy="2915" rx="8" ry="16" stroke-width="4" fill="#fff"/>
<path d="M2382,2863 C2378,2868 2382,2873 2388,2873 L2455,2888 L2460,2880 L2390,2860 C2386,2859 2383,2860 2382,2863 Z" stroke-width="4" fill="#fff"/>
<path d="M2730,3158 L2795,3173 L2830,3328 C2828,3335 2822,3337 2818,3336 L2772,3318 Z" stroke-width="6" fill="#fff"/>
<path d="M2735,3165 L2790,3178 L2795,3173" stroke-width="3"/>
<!-- 130 -->
<path d="M2269,3198 L2301,3186 L2316,3189 L2316,3179 L2347,3165 L2392,3191 L2395,3216 L2412,3232 L2412,3280 L2396,3288 L2367,3278 L2363,3307 L2349,3313 L2320,3307 L2276,3282 Z" stroke-width="7" fill="#fff"/>
<path d="M2281,3203 L2301,3193 L2336,3214 L2317,3226 Z M2324,3186 L2347,3175 L2384,3193 L2361,3204 Z" stroke-width="4"/>
<path d="M2317,3226 L2318,3305 M2283,3251 L2318,3267 M2336,3214 L2342,3240 M2361,3204 L2363,3228" stroke-width="4"/>
<path d="M2300,3207 C2295,3212 2305,3218 2315,3212 M2345,3190 C2340,3196 2352,3200 2360,3196" stroke-width="4"/>
<g><line x1="2375" y1="3236" x2="2397" y2="3247" stroke-width="27" stroke-linecap="butt"/><line x1="2375" y1="3236" x2="2397" y2="3247" stroke-width="17" stroke="#fff" stroke-linecap="butt"/><ellipse cx="2397" cy="3247" rx="10" ry="13" transform="rotate(25 2397 3247)" stroke-width="5" fill="#fff"/><line x1="2375" y1="3263" x2="2397" y2="3274" stroke-width="27" stroke-linecap="butt"/><line x1="2375" y1="3263" x2="2397" y2="3274" stroke-width="17" stroke="#fff" stroke-linecap="butt"/><ellipse cx="2397" cy="3274" rx="10" ry="13" transform="rotate(25 2397 3274)" stroke-width="5" fill="#fff"/><line x1="2333" y1="3253" x2="2355" y2="3264" stroke-width="27" stroke-linecap="butt"/><line x1="2333" y1="3253" x2="2355" y2="3264" stroke-width="17" stroke="#fff" stroke-linecap="butt"/><ellipse cx="2355" cy="3264" rx="10" ry="13" transform="rotate(25 2355 3264)" stroke-width="5" fill="#fff"/><line x1="2331" y1="3288" x2="2352" y2="3299" stroke-width="27" stroke-linecap="butt"/><line x1="2331" y1="3288" x2="2352" y2="3299" stroke-width="17" stroke="#fff" stroke-linecap="butt"/><ellipse cx="2352" cy="3299" rx="10" ry="13" transform="rotate(25 2352 3299)" stroke-width="5" fill="#fff"/></g>
<!-- cable wires to 106 -->
<path d="M2322,3335 C2318,3370 2322,3410 2335,3440 C2350,3470 2372,3485 2385,3500" stroke-width="24"/>
<path d="M2322,3335 C2318,3370 2322,3410 2335,3440 C2350,3470 2372,3485 2385,3500" stroke-width="13" stroke="#fff"/>
<path d="M2380,3320 C2376,3360 2376,3420 2378,3450 C2380,3470 2385,3485 2392,3500" stroke-width="26"/>
<path d="M2380,3320 C2376,3360 2376,3420 2378,3450 C2380,3470 2385,3485 2392,3500" stroke-width="15" stroke="#fff"/>
<path d="M2315,3345 L2316,3322 C2316,3312 2330,3312 2331,3322 L2334,3345 M2372,3325 L2373,3303 C2374,3293 2388,3293 2389,3303 L2393,3325" stroke-width="5" fill="#fff"/>
<path d="M2318,3340 L2334,3338 M2375,3320 L2392,3318" stroke-width="4"/>
<!-- 106 -->
<path d="M2451,3563 C2458,3575 2462,3580 2470,3580 C2500,3578 2520,3575 2538,3576 C2555,3580 2568,3590 2572,3600 C2580,3620 2578,3640 2565,3660 C2550,3685 2525,3705 2500,3720 C2490,3730 2480,3738 2472,3742 L2466,3720 C2480,3712 2500,3695 2515,3685 C2535,3670 2550,3650 2556,3630 C2560,3615 2555,3605 2545,3600 C2520,3598 2490,3602 2470,3605 Z" fill="#000" stroke-width="4"/>
<path d="M2508,3602 l6,10 l8,-6 l-1,12 l9,4 l-8,7 l5,10 l-11,-1 l-2,11 l-7,-8 l-8,6 l0,-11 l-10,-3 l8,-8 l-5,-10 l11,2 Z" stroke-width="4" fill="#fff"/>
<path d="M2545,3605 C2550,3615 2552,3625 2548,3640 M2538,3650 L2530,3660" stroke="#fff" stroke-width="4"/>
<path d="M2363,3493 L2379,3589 M2409,3487 L2429,3581" stroke-width="7"/>
<path d="M2363,3493 C2372,3485 2400,3482 2409,3487 M2365,3503 C2375,3498 2400,3495 2410,3498" stroke-width="5"/>
<path d="M2341,3624 C2340,3600 2345,3575 2360,3562 C2375,3553 2395,3553 2410,3553 C2430,3553 2448,3558 2455,3570 C2462,3585 2462,3605 2460,3630 L2461,3733 L2477,3885 C2477,3898 2472,3905 2465,3906 L2428,3910 C2418,3905 2412,3898 2410,3890 L2385,3798 L2363,3689 C2355,3665 2345,3645 2341,3624 Z" stroke-width="7" fill="#fff"/>
<path d="M2379,3589 C2390,3595 2420,3592 2429,3581" stroke-width="5"/>
<path d="M2350,3574 C2370,3580 2430,3580 2452,3568 M2348,3625 C2370,3640 2430,3635 2458,3610" stroke-width="4"/>
<path d="M2358,3603 C2370,3608 2395,3610 2402,3607 M2412,3605 C2425,3602 2440,3598 2446,3590" stroke-width="3"/>
<path d="M2458,3635 L2468,3732 L2476,3880" stroke-width="10"/>
<!-- 120 screw -->
<path d="M2135,3455 L2175,3478 C2182,3483 2182,3495 2172,3498 L2130,3480" stroke-width="5" fill="#fff"/>
<path d="M2150,3462 L2145,3482 M2160,3468 L2155,3488 M2170,3474 L2166,3494" stroke-width="4"/>
<ellipse cx="2127" cy="3468" rx="18" ry="21" transform="rotate(-20 2127 3468)" stroke-width="6" fill="#fff"/>
<ellipse cx="2132" cy="3467" rx="10" ry="12" stroke-width="3"/>
<!-- 119 clamp -->
<path d="M2160,3535 C2165,3515 2200,3505 2225,3502 C2240,3502 2245,3515 2240,3528 C2232,3545 2205,3555 2190,3562 C2180,3575 2165,3575 2158,3565 C2152,3555 2155,3545 2160,3535 Z" stroke-width="6" fill="#fff"/>
<ellipse cx="2175" cy="3550" rx="8" ry="7" stroke-width="4"/>
<ellipse cx="2222" cy="3525" rx="8" ry="7" stroke-width="4"/>
<path d="M2188,3530 L2205,3525 L2205,3540 L2195,3542" stroke-width="4"/>
</g>

<!-- z_top.svg -->
<g fill="none" stroke="#000" stroke-width="2">
<line x1="400" y1="731" x2="615" y2="683"/>
<line x1="690" y1="668" x2="960" y2="607"/>
</g>

</svg></body></html>
